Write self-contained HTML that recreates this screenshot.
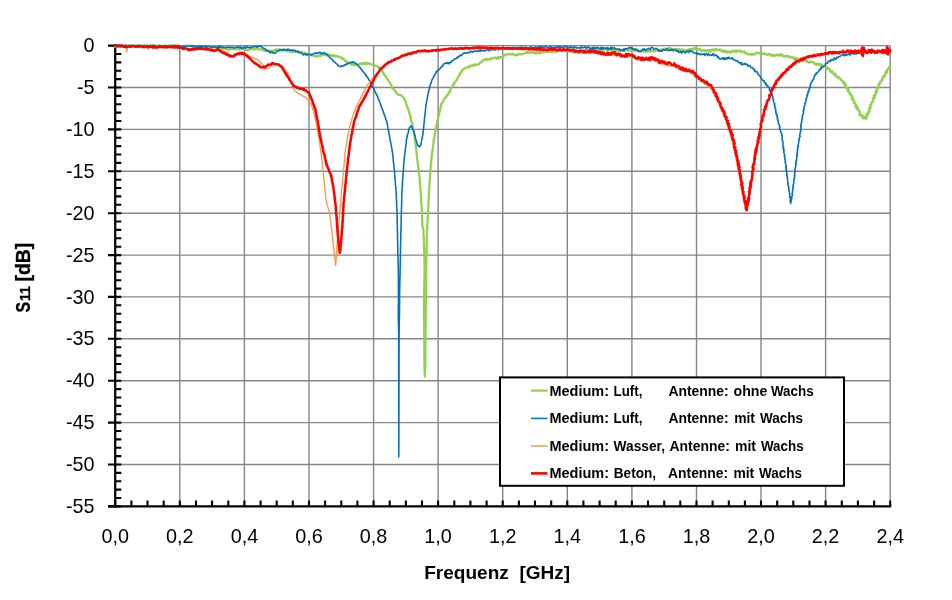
<!DOCTYPE html>
<html lang="de"><head><meta charset="utf-8"><title>S11 Diagramm</title>
<style>html,body{margin:0;padding:0;background:#fff}body{width:952px;height:600px;overflow:hidden}</style></head>
<body>
<svg width="952" height="600" viewBox="0 0 952 600" style="display:block">
<rect x="0" y="0" width="952" height="600" fill="#ffffff"/>
<path d="M179.8 45.6 V506.4 M244.4 45.6 V506.4 M309.0 45.6 V506.4 M373.6 45.6 V506.4 M438.1 45.6 V506.4 M502.7 45.6 V506.4 M567.3 45.6 V506.4 M631.9 45.6 V506.4 M696.5 45.6 V506.4 M761.0 45.6 V506.4 M825.6 45.6 V506.4 M890.2 45.6 V506.4 M115.2 45.6 H890.2 M115.2 87.5 H890.2 M115.2 129.4 H890.2 M115.2 171.3 H890.2 M115.2 213.2 H890.2 M115.2 255.1 H890.2 M115.2 296.9 H890.2 M115.2 338.8 H890.2 M115.2 380.7 H890.2 M115.2 422.6 H890.2 M115.2 464.5 H890.2" stroke="#868686" stroke-width="1.4" fill="none"/>
<path d="M108.0 45.6 H121.3 M115.2 54.0 H121.3 M115.2 62.4 H121.3 M115.2 70.7 H121.3 M115.2 79.1 H121.3 M108.0 87.5 H121.3 M115.2 95.9 H121.3 M115.2 104.2 H121.3 M115.2 112.6 H121.3 M115.2 121.0 H121.3 M108.0 129.4 H121.3 M115.2 137.8 H121.3 M115.2 146.1 H121.3 M115.2 154.5 H121.3 M115.2 162.9 H121.3 M108.0 171.3 H121.3 M115.2 179.7 H121.3 M115.2 188.0 H121.3 M115.2 196.4 H121.3 M115.2 204.8 H121.3 M108.0 213.2 H121.3 M115.2 221.5 H121.3 M115.2 229.9 H121.3 M115.2 238.3 H121.3 M115.2 246.7 H121.3 M108.0 255.1 H121.3 M115.2 263.4 H121.3 M115.2 271.8 H121.3 M115.2 280.2 H121.3 M115.2 288.6 H121.3 M108.0 296.9 H121.3 M115.2 305.3 H121.3 M115.2 313.7 H121.3 M115.2 322.1 H121.3 M115.2 330.5 H121.3 M108.0 338.8 H121.3 M115.2 347.2 H121.3 M115.2 355.6 H121.3 M115.2 364.0 H121.3 M115.2 372.3 H121.3 M108.0 380.7 H121.3 M115.2 389.1 H121.3 M115.2 397.5 H121.3 M115.2 405.9 H121.3 M115.2 414.2 H121.3 M108.0 422.6 H121.3 M115.2 431.0 H121.3 M115.2 439.4 H121.3 M115.2 447.8 H121.3 M115.2 456.1 H121.3 M108.0 464.5 H121.3 M115.2 472.9 H121.3 M115.2 481.3 H121.3 M115.2 489.6 H121.3 M115.2 498.0 H121.3 M108.0 506.4 H121.3 M115.2 506.4 V500.6 M131.4 506.4 V500.6 M147.5 506.4 V500.6 M163.7 506.4 V500.6 M179.8 506.4 V500.6 M196.0 506.4 V500.6 M212.1 506.4 V500.6 M228.3 506.4 V500.6 M244.4 506.4 V500.6 M260.6 506.4 V500.6 M276.7 506.4 V500.6 M292.8 506.4 V500.6 M309.0 506.4 V500.6 M325.1 506.4 V500.6 M341.3 506.4 V500.6 M357.4 506.4 V500.6 M373.6 506.4 V500.6 M389.7 506.4 V500.6 M405.9 506.4 V500.6 M422.0 506.4 V500.6 M438.1 506.4 V500.6 M454.3 506.4 V500.6 M470.4 506.4 V500.6 M486.6 506.4 V500.6 M502.7 506.4 V500.6 M518.9 506.4 V500.6 M535.0 506.4 V500.6 M551.2 506.4 V500.6 M567.3 506.4 V500.6 M583.4 506.4 V500.6 M599.6 506.4 V500.6 M615.7 506.4 V500.6 M631.9 506.4 V500.6 M648.0 506.4 V500.6 M664.2 506.4 V500.6 M680.3 506.4 V500.6 M696.5 506.4 V500.6 M712.6 506.4 V500.6 M728.8 506.4 V500.6 M744.9 506.4 V500.6 M761.0 506.4 V500.6 M777.2 506.4 V500.6 M793.3 506.4 V500.6 M809.5 506.4 V500.6 M825.6 506.4 V500.6 M841.8 506.4 V500.6 M857.9 506.4 V500.6 M874.1 506.4 V500.6 M890.2 506.4 V500.6" stroke="#000" stroke-width="2.1" fill="none"/>
<path d="M115.2 44.6 V507.4 M108.0 506.4 H891.2" stroke="#000" stroke-width="2.2" fill="none"/>
<g fill="none" stroke-linejoin="round" stroke-linecap="round">
<path d="M115.3 46.9 L115.8 46.6 L116.7 46.9 L117.2 46.0 L118.0 46.2 L118.7 46.0 L119.4 45.5 L120.1 46.2 L120.8 45.5 L121.5 46.1 L122.2 45.5 L123.0 45.5 L123.7 46.0 L124.4 46.6 L125.1 45.5 L125.8 45.7 L126.5 46.3 L127.2 46.7 L127.9 46.2 L128.6 45.9 L129.4 46.8 L130.1 45.4 L130.8 46.6 L131.5 45.7 L132.2 45.5 L132.9 45.4 L133.6 45.7 L134.3 46.4 L135.0 45.5 L135.7 46.1 L136.5 46.2 L137.2 45.7 L137.9 46.0 L138.6 45.3 L139.3 45.3 L140.0 45.5 L140.7 46.2 L141.4 45.8 L142.1 45.6 L142.9 46.0 L143.6 45.8 L144.3 45.6 L145.0 46.4 L145.7 46.2 L146.4 45.5 L147.1 46.0 L147.9 46.0 L148.6 46.5 L149.3 46.3 L150.0 45.6 L150.7 46.7 L151.4 45.4 L152.1 45.8 L152.9 46.3 L153.6 45.4 L154.3 45.9 L155.0 45.3 L155.7 46.2 L156.4 46.4 L157.1 46.1 L157.9 46.5 L158.6 45.7 L159.3 46.3 L160.0 46.1 L160.7 46.1 L161.4 45.9 L162.1 46.5 L162.9 46.6 L163.6 45.9 L164.3 46.2 L165.0 45.3 L165.7 46.3 L166.4 46.2 L167.1 46.7 L167.9 46.5 L168.6 45.7 L169.3 45.8 L170.0 46.3 L170.7 45.3 L171.4 46.0 L172.1 45.5 L172.8 45.5 L173.5 45.4 L174.2 46.4 L174.9 45.5 L175.6 45.7 L176.3 45.9 L177.0 46.6 L177.7 45.4 L178.4 46.0 L179.1 46.1 L179.8 46.6 L180.5 46.6 L181.2 46.6 L181.9 45.8 L182.6 46.0 L183.3 45.9 L184.0 46.7 L184.7 46.8 L185.4 45.6 L186.1 45.6 L186.8 45.7 L187.5 45.7 L188.2 46.1 L188.9 46.3 L189.6 45.8 L190.3 45.4 L191.0 46.0 L191.7 46.0 L192.4 46.3 L193.1 46.9 L193.8 46.5 L194.5 46.2 L195.2 46.4 L195.9 46.5 L196.6 45.6 L197.3 46.9 L198.0 46.8 L198.7 46.9 L199.4 46.9 L200.1 46.3 L200.8 46.4 L201.6 46.0 L202.2 46.8 L203.0 46.0 L203.7 46.0 L204.4 46.3 L205.1 46.3 L205.8 46.5 L206.5 46.2 L207.2 46.1 L207.9 46.4 L208.6 46.4 L209.3 46.8 L210.0 46.3 L210.7 47.6 L211.5 47.3 L212.3 46.7 L213.0 46.9 L213.7 47.1 L214.5 47.2 L215.2 46.9 L215.9 47.9 L216.6 48.2 L217.4 47.5 L218.2 47.6 L219.0 47.1 L219.7 47.2 L220.4 47.6 L221.2 47.7 L221.7 48.5 L222.6 47.9 L223.3 47.9 L223.8 49.2 L224.6 48.8 L225.4 48.5 L226.0 49.2 L226.8 48.6 L227.4 49.3 L228.2 49.9 L229.0 49.7 L229.7 49.4 L230.4 48.7 L231.1 48.8 L231.9 48.5 L232.7 49.3 L233.4 48.9 L234.1 49.2 L234.8 48.5 L235.6 48.3 L236.3 49.2 L237.0 49.5 L237.7 49.3 L238.4 49.3 L239.1 49.4 L239.8 49.3 L240.5 48.7 L241.2 49.1 L241.9 48.9 L242.6 48.5 L243.3 48.6 L244.0 49.0 L244.7 49.0 L245.4 49.7 L246.1 50.1 L246.8 49.4 L247.5 50.2 L248.2 50.3 L249.0 50.2 L249.6 49.3 L250.3 49.0 L251.1 49.0 L251.8 48.9 L252.5 48.8 L253.3 49.3 L254.0 49.6 L254.7 49.5 L255.4 48.9 L256.2 49.1 L256.9 49.2 L257.5 48.2 L258.3 48.9 L258.9 49.4 L259.6 49.4 L260.3 49.5 L261.0 49.4 L261.8 49.2 L262.3 50.1 L263.1 49.7 L263.7 50.4 L264.3 50.8 L265.1 50.3 L265.8 50.5 L266.4 51.3 L267.2 51.1 L268.0 50.5 L268.8 50.5 L269.5 50.6 L270.1 51.7 L270.9 51.7 L271.5 50.7 L272.4 51.3 L273.2 51.3 L273.8 50.7 L274.4 50.2 L275.1 50.2 L275.7 49.5 L276.3 49.2 L277.3 50.2 L277.9 49.9 L278.6 49.7 L279.3 50.3 L280.0 49.7 L280.7 50.3 L281.4 50.3 L282.1 49.5 L282.8 49.6 L283.5 49.7 L284.3 49.8 L284.9 50.4 L285.7 50.1 L286.3 50.4 L287.1 50.2 L287.6 51.3 L288.4 50.7 L289.1 51.0 L289.8 51.3 L290.5 51.8 L291.4 51.3 L292.1 52.0 L292.9 51.5 L293.7 51.7 L294.5 51.7 L295.4 51.1 L296.1 51.8 L296.8 51.5 L297.6 51.3 L298.2 52.4 L299.1 51.6 L299.8 52.1 L300.5 52.5 L301.2 52.3 L302.0 52.1 L302.7 52.5 L303.3 52.8 L303.9 53.3 L304.8 52.7 L305.3 53.5 L306.1 53.3 L306.8 53.6 L307.3 54.4 L308.0 54.3 L308.7 54.6 L309.3 55.0 L309.9 55.3 L310.8 54.9 L311.4 55.3 L312.1 55.4 L312.8 55.5 L313.4 55.9 L314.2 55.8 L314.8 56.1 L315.5 56.2 L316.3 56.7 L316.9 56.2 L317.7 56.3 L318.4 56.3 L318.9 55.3 L319.7 55.6 L320.5 56.0 L321.2 55.7 L321.7 54.7 L322.4 54.5 L323.2 54.8 L323.9 54.2 L324.7 54.5 L325.4 54.3 L326.1 55.1 L326.9 55.3 L327.6 55.5 L328.4 54.5 L329.1 55.3 L329.8 55.3 L330.7 54.6 L331.3 55.7 L332.0 56.0 L332.9 55.1 L333.5 56.2 L334.3 55.6 L335.1 55.8 L335.7 56.6 L336.5 56.5 L337.4 55.8 L338.1 56.5 L338.8 56.9 L339.6 57.0 L340.4 57.2 L341.0 57.7 L341.6 58.4 L342.6 58.1 L342.9 59.0 L343.5 59.3 L344.3 59.4 L344.7 60.1 L345.1 60.8 L345.7 61.1 L346.5 61.2 L346.6 62.3 L347.2 62.6 L347.9 63.2 L349.0 62.7 L349.7 63.2 L350.5 63.4 L350.8 64.5 L351.8 64.3 L352.5 64.4 L353.1 64.7 L353.9 65.4 L354.6 65.2 L355.3 64.4 L356.0 64.2 L356.8 65.2 L357.5 64.7 L358.3 64.7 L358.9 63.8 L359.6 63.6 L360.5 64.2 L361.2 63.7 L361.9 63.1 L362.8 64.1 L363.5 63.5 L364.2 63.6 L364.9 62.7 L365.6 63.8 L366.4 62.7 L367.0 63.9 L367.8 63.3 L368.5 63.2 L369.2 63.6 L369.7 64.2 L370.8 63.9 L371.5 64.1 L372.1 64.8 L373.0 64.8 L373.7 65.0 L374.4 65.3 L375.2 65.4 L375.8 65.9 L376.5 66.2 L377.2 66.5 L377.8 67.2 L378.7 66.9 L379.3 67.4 L379.9 67.9 L380.2 68.5 L380.9 69.0 L381.1 69.7 L381.7 70.1 L381.7 71.0 L382.2 71.6 L382.8 72.0 L383.1 72.7 L383.2 73.5 L384.2 73.7 L384.1 74.6 L384.8 75.0 L385.2 75.7 L385.4 76.4 L386.1 76.8 L386.4 77.4 L386.7 78.1 L387.0 78.8 L387.8 79.1 L387.8 79.9 L388.3 80.5 L388.6 81.1 L389.1 81.6 L389.5 82.2 L390.0 82.7 L390.3 83.4 L390.7 84.0 L390.6 84.8 L391.2 85.3 L391.6 85.8 L392.0 86.4 L391.9 87.3 L392.2 87.9 L392.7 88.5 L393.4 88.8 L393.9 89.3 L394.3 89.9 L394.6 90.5 L395.3 90.9 L395.6 91.6 L396.1 92.0 L396.2 92.9 L396.6 93.5 L397.3 93.8 L397.9 94.1 L398.3 95.1 L399.3 94.7 L400.0 95.1 L400.9 95.0 L401.5 95.8 L402.2 96.2 L402.9 96.5 L403.4 97.1 L403.5 97.8 L404.1 98.3 L404.2 99.0 L404.6 99.6 L404.8 100.3 L405.3 100.8 L405.6 101.5 L405.7 102.2 L406.0 102.8 L406.2 103.5 L406.4 104.2 L406.5 104.9 L406.8 105.5 L407.0 106.2 L407.1 106.9 L407.6 107.5 L407.9 108.2 L407.8 109.0 L408.4 109.5 L408.4 110.3 L408.6 110.9 L409.1 111.5 L409.0 112.3 L409.2 113.0 L409.5 113.6 L409.7 114.3 L409.8 115.1 L410.3 115.7 L410.3 116.5 L410.5 117.2 L410.5 118.0 L410.7 118.7 L410.9 119.4 L411.2 120.1 L411.2 120.9 L411.5 121.6 L411.7 122.3 L412.0 122.9 L412.3 123.7 L412.4 124.4 L412.4 125.1 L412.7 125.8 L412.5 126.6 L412.8 127.3 L412.9 128.1 L413.1 128.8 L413.2 129.5 L413.4 130.2 L413.7 130.9 L413.6 131.7 L413.7 132.4 L414.0 133.1 L414.1 133.9 L414.2 134.6 L414.6 135.3 L414.4 136.0 L414.7 136.8 L414.8 137.5 L414.8 138.2 L414.8 139.0 L415.0 139.7 L414.9 140.4 L415.0 141.2 L415.2 141.9 L415.3 142.6 L415.4 143.4 L415.4 144.1 L415.5 144.8 L415.6 145.6 L415.7 146.3 L416.0 147.0 L416.0 147.8 L416.1 148.5 L416.0 149.2 L416.2 149.9 L416.2 150.6 L416.5 151.3 L416.6 152.0 L416.6 152.8 L416.5 153.5 L416.6 154.2 L416.7 154.9 L416.9 155.6 L416.9 156.3 L417.0 157.0 L417.1 157.7 L417.3 158.4 L417.1 159.2 L417.4 159.9 L417.3 160.6 L417.4 161.3 L417.8 162.0 L417.7 162.7 L417.7 163.4 L417.7 164.1 L418.0 164.8 L418.1 165.5 L418.2 166.2 L418.1 167.0 L418.4 167.6 L418.4 168.4 L418.6 169.0 L418.6 169.8 L418.5 170.5 L418.9 171.2 L418.7 171.9 L418.9 172.6 L418.9 173.3 L419.1 174.0 L419.3 174.7 L419.2 175.4 L419.4 176.1 L419.6 176.8 L419.6 177.5 L419.5 178.2 L419.6 178.9 L419.7 179.6 L419.8 180.3 L419.8 181.0 L419.9 181.7 L419.8 182.4 L420.1 183.1 L419.9 183.8 L420.0 184.5 L420.2 185.2 L420.0 185.9 L420.2 186.6 L420.2 187.3 L420.4 188.0 L420.4 188.7 L420.5 189.4 L420.4 190.1 L420.6 190.8 L420.7 191.5 L420.7 192.2 L420.8 192.9 L420.9 193.6 L420.9 194.3 L420.8 195.0 L421.0 195.7 L420.8 196.4 L421.1 197.1 L421.1 197.8 L421.1 198.5 L421.2 199.2 L421.2 199.9 L421.1 200.6 L421.1 201.3 L421.2 202.0 L421.3 202.7 L421.3 203.4 L421.3 204.1 L421.4 204.8 L421.4 205.5 L421.7 206.2 L421.5 206.9 L421.6 207.6 L421.6 208.3 L421.7 209.0 L421.8 209.7 L421.9 210.4 L421.7 211.2 L421.9 211.9 L421.9 212.6 L421.9 213.4 L422.0 214.1 L421.9 214.8 L421.9 215.6 L422.1 216.3 L422.0 217.0 L422.1 217.7 L422.1 218.5 L422.2 219.2 L422.3 219.9 L422.3 220.6 L422.3 221.4 L422.2 222.1 L422.3 222.8 L422.4 223.5 L422.3 224.3 L422.2 225.0 L422.5 225.8 L422.8 226.5 L422.9 227.2 L423.0 228.0 L423.1 228.8 L423.3 229.5 L423.4 230.3 L423.5 231.0 L423.5 231.8 L423.4 232.5 L423.5 233.2 L423.6 233.9 L423.6 234.6 L423.6 235.4 L423.7 236.1 L423.7 236.8 L423.8 237.5 L423.8 238.2 L423.7 238.9 L423.9 239.6 L423.8 240.3 L423.8 241.1 L423.8 241.8 L424.0 242.5 L424.0 243.2 L424.0 243.9 L424.0 244.6 L424.0 245.3 L423.9 246.0 L424.0 246.8 L424.0 247.5 L424.2 248.2 L424.3 248.9 L424.1 249.6 L424.1 250.3 L424.2 251.0 L424.2 251.7 L424.4 252.4 L424.3 253.2 L424.2 253.9 L424.3 254.6 L424.3 255.3 L424.3 256.0 L424.5 256.7 L424.5 257.5 L424.5 258.2 L424.4 258.9 L424.4 259.6 L424.4 260.4 L424.4 261.1 L424.5 261.8 L424.4 262.5 L424.5 263.3 L424.5 264.0 L424.6 264.7 L424.5 265.4 L424.6 266.2 L424.5 266.9 L424.5 267.6 L424.6 268.3 L424.7 269.1 L424.6 269.8 L424.6 270.5 L424.5 271.2 L424.7 271.9 L424.7 272.6 L424.5 273.3 L424.5 274.0 L424.5 274.7 L424.6 275.4 L424.5 276.1 L424.6 276.8 L424.5 277.5 L424.5 278.2 L424.3 278.9 L424.4 279.6 L424.3 280.3 L424.4 281.0 L424.4 281.7 L424.4 282.4 L424.2 283.1 L424.3 283.8 L424.4 284.5 L424.4 285.3 L424.3 286.0 L424.2 286.7 L424.3 287.4 L424.3 288.1 L424.2 288.8 L424.1 289.5 L424.3 290.2 L424.3 290.9 L424.2 291.6 L424.2 292.3 L424.1 293.0 L424.2 293.7 L424.0 294.4 L424.0 295.1 L424.1 295.8 L424.1 296.5 L424.0 297.2 L424.1 297.9 L424.0 298.6 L424.1 299.3 L424.1 300.0 L423.9 300.7 L424.0 301.4 L423.9 302.1 L424.0 302.9 L424.1 303.6 L424.1 304.3 L424.0 305.0 L424.0 305.7 L423.9 306.4 L424.1 307.1 L424.1 307.9 L424.1 308.6 L423.9 309.3 L424.1 310.0 L424.1 310.7 L424.1 311.4 L424.1 312.1 L424.0 312.9 L424.0 313.6 L424.0 314.3 L424.0 315.0 L424.0 315.7 L424.1 316.4 L424.2 317.1 L424.0 317.9 L424.0 318.6 L424.2 319.3 L424.1 320.0 L424.1 320.7 L424.1 321.4 L424.2 322.1 L424.2 322.8 L424.2 323.5 L424.2 324.2 L424.2 324.9 L424.0 325.6 L424.2 326.4 L424.1 327.1 L424.2 327.8 L424.2 328.5 L424.1 329.2 L424.1 329.9 L424.2 330.6 L424.3 331.3 L424.2 332.0 L424.2 332.7 L424.1 333.4 L424.3 334.1 L424.2 334.8 L424.1 335.5 L424.3 336.2 L424.3 336.9 L424.2 337.6 L424.2 338.3 L424.4 339.1 L424.4 339.8 L424.4 340.5 L424.2 341.2 L424.3 341.9 L424.2 342.6 L424.2 343.3 L424.3 344.0 L424.3 344.7 L424.2 345.4 L424.3 346.1 L424.4 346.8 L424.3 347.5 L424.4 348.2 L424.4 348.9 L424.4 349.6 L424.3 350.3 L424.3 351.1 L424.3 351.8 L424.3 352.5 L424.5 353.2 L424.4 353.9 L424.4 354.6 L424.3 355.3 L424.3 356.0 L424.4 356.7 L424.5 357.4 L424.4 358.1 L424.4 358.8 L424.3 359.5 L424.5 360.2 L424.4 360.9 L424.4 361.6 L424.4 362.3 L424.4 363.0 L424.4 363.8 L424.5 364.5 L424.5 365.2 L424.5 365.9 L424.4 366.6 L424.6 367.3 L424.6 368.0 L424.4 368.7 L424.6 369.4 L424.7 370.2 L424.7 370.9 L424.6 371.7 L424.7 372.4 L424.6 373.2 L424.6 374.0 L424.7 374.7 L424.9 375.5 L425.0 376.2 L425.1 376.6 L424.9 376.3 L425.0 375.5 L425.0 374.8 L424.9 374.1 L425.0 373.4 L425.1 372.6 L425.1 371.9 L425.2 371.2 L425.2 370.5 L425.2 369.7 L425.1 369.0 L425.3 368.3 L425.2 367.6 L425.2 366.9 L425.2 366.2 L425.3 365.5 L425.2 364.8 L425.2 364.1 L425.2 363.4 L425.2 362.7 L425.4 362.0 L425.3 361.3 L425.2 360.6 L425.3 359.9 L425.4 359.2 L425.3 358.5 L425.3 357.8 L425.4 357.1 L425.4 356.4 L425.4 355.7 L425.3 355.0 L425.3 354.3 L425.4 353.6 L425.4 352.9 L425.5 352.2 L425.3 351.5 L425.3 350.8 L425.3 350.1 L425.3 349.4 L425.5 348.7 L425.4 348.0 L425.5 347.3 L425.4 346.6 L425.5 345.9 L425.4 345.2 L425.4 344.5 L425.5 343.8 L425.6 343.1 L425.4 342.4 L425.5 341.7 L425.5 341.0 L425.4 340.3 L425.5 339.6 L425.4 338.9 L425.5 338.2 L425.5 337.5 L425.5 336.8 L425.6 336.1 L425.5 335.4 L425.4 334.7 L425.5 334.0 L425.6 333.3 L425.5 332.6 L425.5 331.9 L425.5 331.2 L425.7 330.5 L425.6 329.8 L425.5 329.1 L425.5 328.4 L425.6 327.7 L425.6 327.0 L425.7 326.3 L425.6 325.6 L425.6 324.9 L425.7 324.2 L425.6 323.5 L425.6 322.8 L425.6 322.1 L425.8 321.4 L425.7 320.7 L425.7 320.0 L425.7 319.3 L425.7 318.6 L425.8 317.9 L425.8 317.1 L425.7 316.4 L425.7 315.7 L425.8 315.0 L425.7 314.3 L425.7 313.6 L425.9 312.9 L425.8 312.1 L425.9 311.4 L425.8 310.7 L425.9 310.0 L425.8 309.3 L425.7 308.6 L425.7 307.9 L425.8 307.1 L425.9 306.4 L425.9 305.7 L425.8 305.0 L425.9 304.3 L425.8 303.6 L425.9 302.9 L425.8 302.1 L425.8 301.4 L425.9 300.7 L426.0 300.0 L425.8 299.3 L425.9 298.6 L426.0 297.9 L426.0 297.2 L425.9 296.5 L425.9 295.8 L426.0 295.1 L426.0 294.4 L425.9 293.7 L425.9 293.0 L426.0 292.3 L425.9 291.6 L426.0 290.9 L426.0 290.2 L426.0 289.5 L425.9 288.8 L426.0 288.1 L425.9 287.4 L426.0 286.7 L426.1 286.0 L426.1 285.3 L425.9 284.5 L426.0 283.8 L426.0 283.1 L426.0 282.4 L426.0 281.7 L425.9 281.0 L426.0 280.3 L426.1 279.6 L426.1 278.9 L426.0 278.2 L426.1 277.5 L426.1 276.8 L426.0 276.1 L426.1 275.4 L426.0 274.7 L426.1 274.0 L426.1 273.3 L426.1 272.6 L426.0 271.9 L426.1 271.2 L426.1 270.5 L426.1 269.8 L426.2 269.1 L426.1 268.3 L426.2 267.6 L426.1 266.9 L426.2 266.2 L426.2 265.4 L426.2 264.7 L426.3 264.0 L426.4 263.3 L426.3 262.5 L426.3 261.8 L426.3 261.1 L426.3 260.4 L426.3 259.6 L426.4 258.9 L426.3 258.2 L426.4 257.5 L426.5 256.7 L426.4 256.0 L426.5 255.3 L426.4 254.6 L426.6 253.9 L426.6 253.2 L426.6 252.5 L426.5 251.7 L426.6 251.0 L426.6 250.3 L426.7 249.6 L426.5 248.9 L426.7 248.2 L426.7 247.5 L426.7 246.8 L426.7 246.0 L426.6 245.3 L426.8 244.6 L426.7 243.9 L426.8 243.2 L426.8 242.5 L426.7 241.8 L426.8 241.1 L426.9 240.3 L426.7 239.6 L426.7 238.9 L426.8 238.2 L426.7 237.5 L426.9 236.8 L426.8 236.1 L426.9 235.4 L426.8 234.6 L426.9 233.9 L427.0 233.2 L426.8 232.5 L426.8 231.8 L427.0 231.0 L427.0 230.3 L426.9 229.5 L427.0 228.8 L427.1 228.0 L427.4 227.3 L427.3 226.5 L427.5 225.8 L427.3 225.0 L427.5 224.3 L427.4 223.6 L427.5 222.8 L427.6 222.1 L427.5 221.4 L427.7 220.7 L427.7 220.0 L427.7 219.3 L427.8 218.5 L427.6 217.8 L427.9 217.1 L427.9 216.4 L427.8 215.7 L428.0 215.0 L427.9 214.2 L428.1 213.5 L428.0 212.8 L428.0 212.1 L428.1 211.4 L428.1 210.6 L428.1 209.9 L428.2 209.2 L428.1 208.5 L428.3 207.8 L428.2 207.1 L428.4 206.3 L428.5 205.6 L428.4 204.9 L428.5 204.2 L428.4 203.5 L428.4 202.7 L428.4 202.0 L428.5 201.3 L428.6 200.6 L428.6 199.9 L428.7 199.2 L428.8 198.5 L428.7 197.7 L428.7 197.0 L428.9 196.3 L428.7 195.6 L428.8 194.8 L428.9 194.1 L428.9 193.4 L429.0 192.7 L429.0 192.0 L429.1 191.3 L429.2 190.6 L429.1 189.8 L429.3 189.1 L429.3 188.4 L429.2 187.7 L429.5 187.0 L429.3 186.2 L429.3 185.5 L429.4 184.8 L429.5 184.1 L429.6 183.4 L429.7 182.7 L429.6 181.9 L429.6 181.2 L429.6 180.5 L429.8 179.8 L429.8 179.1 L429.8 178.4 L430.0 177.7 L430.0 177.0 L430.2 176.3 L430.2 175.6 L430.1 174.8 L430.3 174.2 L430.1 173.4 L430.3 172.7 L430.3 172.0 L430.3 171.3 L430.3 170.6 L430.6 169.9 L430.4 169.2 L430.6 168.5 L430.8 167.8 L430.6 167.1 L430.7 166.4 L430.9 165.7 L430.9 165.0 L431.0 164.3 L431.1 163.6 L431.0 162.8 L431.1 162.1 L431.1 161.4 L431.1 160.7 L431.4 160.0 L431.4 159.3 L431.5 158.6 L431.3 157.9 L431.7 157.2 L431.8 156.5 L431.8 155.8 L431.9 155.1 L431.9 154.4 L431.9 153.7 L432.0 153.0 L432.1 152.3 L432.2 151.6 L432.4 150.9 L432.6 150.2 L432.7 149.5 L432.8 148.8 L432.8 148.1 L432.8 147.4 L433.0 146.7 L433.0 146.0 L433.2 145.3 L433.2 144.6 L433.2 143.9 L433.5 143.2 L433.7 142.5 L433.5 141.8 L433.9 141.1 L433.6 140.4 L433.8 139.7 L433.9 138.9 L434.2 138.3 L434.4 137.6 L434.5 136.9 L434.4 136.1 L434.7 135.4 L434.6 134.7 L434.7 134.0 L435.1 133.3 L435.1 132.6 L435.2 131.9 L435.3 131.3 L435.6 130.6 L435.5 129.9 L435.8 129.2 L435.8 128.5 L436.0 127.8 L436.0 127.1 L436.3 126.4 L436.4 125.7 L436.4 124.9 L436.6 124.2 L436.9 123.5 L436.9 122.7 L437.4 122.1 L437.3 121.3 L437.4 120.6 L437.6 119.8 L438.2 119.2 L438.1 118.4 L438.2 117.7 L438.3 117.0 L438.4 116.3 L438.9 115.6 L439.0 114.9 L439.2 114.2 L439.3 113.6 L439.2 112.8 L439.6 112.1 L439.6 111.4 L440.0 110.8 L440.1 110.1 L440.3 109.4 L440.1 108.6 L440.6 108.0 L440.7 107.3 L440.9 106.6 L440.7 105.9 L440.8 105.1 L441.1 104.4 L441.4 103.6 L442.3 103.2 L442.6 102.4 L442.9 101.7 L443.3 101.0 L443.6 100.3 L443.8 99.5 L444.2 98.9 L444.6 98.3 L445.5 98.1 L445.6 97.2 L446.2 96.7 L446.7 96.2 L446.9 95.4 L447.5 95.0 L447.9 94.4 L448.5 93.9 L448.6 93.1 L448.9 92.5 L449.6 92.0 L449.6 91.2 L450.2 90.7 L450.4 90.0 L450.3 89.1 L450.9 88.6 L451.2 88.0 L451.7 87.4 L451.8 86.6 L452.5 86.2 L452.8 85.6 L453.0 84.8 L453.8 84.6 L453.7 83.6 L454.6 83.4 L454.6 82.5 L454.9 81.8 L455.5 81.3 L456.3 81.0 L456.7 80.4 L456.5 79.5 L457.1 79.0 L457.5 78.4 L458.0 77.8 L458.0 77.0 L458.5 76.5 L458.8 75.8 L459.5 75.3 L459.4 74.5 L460.2 74.1 L460.2 73.2 L460.5 72.6 L461.3 72.2 L461.6 71.5 L461.7 70.8 L462.5 70.4 L462.6 69.6 L463.5 69.3 L463.8 68.8 L464.5 68.7 L465.2 68.3 L465.8 67.7 L466.5 67.5 L467.2 67.3 L468.2 67.6 L468.5 66.4 L469.6 67.1 L469.9 65.8 L470.7 65.7 L471.5 65.5 L472.5 65.9 L473.1 65.2 L473.8 64.7 L474.6 65.4 L475.2 64.3 L475.9 64.5 L476.7 64.5 L477.4 64.7 L478.1 64.6 L478.9 64.3 L479.3 63.5 L479.8 62.9 L480.3 62.3 L481.3 62.3 L481.7 61.7 L482.4 61.2 L482.5 60.3 L483.3 60.0 L484.0 59.8 L484.6 59.6 L485.3 58.8 L486.0 59.4 L486.8 60.2 L487.5 59.0 L488.2 59.0 L488.9 59.2 L489.7 59.6 L490.5 59.6 L490.9 58.5 L491.6 58.3 L492.4 58.2 L493.1 58.1 L493.9 58.2 L494.6 57.6 L495.3 57.8 L496.0 57.5 L496.9 58.8 L497.6 58.3 L498.2 57.2 L499.2 58.5 L499.5 57.0 L500.4 57.0 L501.4 57.4 L502.0 56.9 L502.7 56.5 L503.3 55.8 L503.9 55.2 L504.8 55.6 L505.3 54.6 L506.1 54.5 L506.9 54.5 L507.4 53.8 L508.3 54.1 L509.1 54.5 L509.8 54.4 L510.6 54.2 L511.3 54.5 L512.1 54.3 L512.9 53.8 L513.5 54.7 L514.3 54.5 L515.0 55.1 L515.8 55.5 L516.5 54.5 L517.3 54.6 L518.1 54.8 L518.8 54.1 L519.4 53.6 L520.3 54.3 L521.1 54.4 L521.8 54.1 L522.6 53.8 L523.3 53.9 L524.0 53.5 L524.8 53.3 L525.5 52.9 L526.2 52.5 L527.0 52.9 L527.6 51.9 L528.4 52.3 L529.2 52.8 L529.9 52.7 L530.6 52.6 L531.3 52.0 L532.0 52.3 L532.7 52.4 L533.4 52.8 L534.1 52.4 L534.8 53.0 L535.5 53.5 L536.2 52.1 L536.9 53.0 L537.6 53.3 L538.3 52.5 L539.1 52.6 L540.0 53.3 L540.5 51.6 L541.4 52.3 L542.0 51.5 L543.0 52.5 L543.8 52.7 L544.4 51.8 L545.1 51.0 L545.9 51.8 L546.6 51.6 L547.4 51.9 L548.1 51.4 L548.9 51.6 L549.7 51.9 L550.4 51.2 L551.1 50.9 L551.8 52.0 L552.6 50.6 L553.3 51.6 L554.1 51.0 L554.8 51.8 L555.6 50.6 L556.3 52.3 L557.1 51.1 L557.8 50.5 L558.5 50.9 L559.3 51.0 L559.9 50.2 L560.8 50.9 L561.5 50.8 L562.3 51.2 L563.0 50.5 L563.7 50.3 L564.4 50.1 L565.3 51.0 L566.1 51.2 L566.8 50.4 L567.5 49.7 L568.3 50.7 L569.0 49.9 L569.7 49.4 L570.5 49.2 L571.3 50.4 L572.0 50.5 L572.7 50.2 L573.5 50.0 L574.2 50.3 L575.0 49.7 L575.5 51.2 L576.4 50.1 L577.1 50.7 L577.8 51.2 L578.5 51.2 L579.3 50.7 L580.0 50.4 L580.7 50.9 L581.4 50.0 L582.1 51.3 L582.8 50.3 L583.5 51.3 L584.2 50.1 L584.9 50.3 L585.6 50.0 L586.3 50.3 L587.0 49.7 L587.6 49.3 L588.4 50.8 L589.1 49.8 L589.8 49.7 L590.5 49.8 L591.2 50.1 L591.9 49.9 L592.6 50.3 L593.3 50.3 L594.0 49.7 L594.8 50.8 L595.4 50.6 L596.0 48.9 L596.8 50.5 L597.5 50.7 L598.2 50.4 L598.9 49.0 L599.6 50.5 L600.3 50.0 L601.0 48.7 L601.7 48.7 L602.4 50.7 L603.1 50.0 L603.8 49.1 L604.5 48.8 L605.2 48.9 L605.9 49.1 L606.6 50.2 L607.3 49.3 L608.0 48.8 L608.7 50.5 L609.4 50.2 L610.1 48.8 L610.8 50.4 L611.5 49.8 L612.2 50.1 L612.9 49.9 L613.5 50.3 L614.2 50.2 L614.9 50.4 L615.8 49.3 L616.4 50.4 L617.1 50.2 L617.8 50.7 L618.6 50.2 L619.2 51.2 L620.0 50.7 L620.7 50.1 L621.4 49.9 L622.2 49.7 L623.0 50.4 L623.6 49.4 L624.5 50.2 L625.1 49.5 L625.9 50.1 L626.7 50.1 L627.4 50.1 L628.2 50.7 L628.8 48.9 L629.7 50.6 L630.4 49.7 L631.1 50.0 L631.8 50.3 L632.6 50.7 L633.4 49.8 L634.1 49.9 L634.8 51.1 L635.6 49.4 L636.3 50.6 L637.0 50.6 L637.9 49.5 L638.5 50.7 L639.2 50.9 L639.9 51.5 L640.7 50.3 L641.4 51.7 L642.2 50.8 L642.9 50.8 L643.6 51.7 L644.4 49.9 L645.0 51.4 L645.8 51.2 L646.5 50.7 L647.2 51.8 L648.0 50.8 L648.7 51.1 L649.4 51.3 L650.2 51.7 L650.8 50.5 L651.5 50.8 L652.2 50.7 L653.0 50.9 L653.8 51.3 L654.4 50.2 L655.2 51.2 L655.8 50.3 L656.6 50.4 L657.2 49.8 L658.0 50.2 L658.8 51.1 L659.5 50.4 L660.3 50.6 L661.0 49.6 L661.7 49.5 L662.5 49.3 L663.3 49.8 L664.0 49.9 L664.8 50.1 L665.3 48.5 L666.2 49.8 L667.0 50.0 L667.6 49.3 L668.2 48.2 L669.0 48.6 L669.7 47.9 L670.4 48.2 L671.3 49.6 L672.0 48.9 L672.7 48.9 L673.4 49.1 L674.1 49.3 L674.8 48.8 L675.5 48.9 L676.2 49.1 L676.9 49.4 L677.7 49.4 L678.4 49.7 L679.3 49.0 L679.8 50.0 L680.6 49.7 L681.2 50.4 L682.2 49.4 L682.9 49.7 L683.7 49.6 L684.2 51.2 L685.0 51.2 L685.6 50.6 L686.2 50.0 L687.1 50.7 L687.8 50.5 L688.4 49.9 L689.0 49.2 L689.7 49.2 L690.4 49.3 L691.1 49.0 L691.8 49.0 L692.6 49.3 L693.4 49.7 L693.8 48.0 L694.6 48.8 L695.1 47.7 L696.0 47.6 L696.5 49.1 L697.3 48.9 L697.8 49.7 L698.7 49.1 L699.6 48.6 L700.1 49.4 L700.7 50.0 L701.2 50.7 L701.8 51.0 L702.7 50.4 L703.5 50.5 L704.3 50.1 L704.7 51.2 L705.6 50.7 L706.1 50.7 L706.7 50.4 L707.4 50.2 L708.4 51.4 L708.9 50.2 L709.9 51.7 L710.4 49.9 L711.3 51.2 L711.8 49.7 L712.5 49.4 L713.5 50.6 L714.1 49.5 L715.0 50.3 L715.5 49.2 L716.2 48.8 L717.2 50.0 L717.8 49.8 L718.3 50.2 L719.0 50.2 L720.0 49.3 L720.4 50.4 L721.1 50.7 L721.9 50.5 L722.3 51.5 L723.3 50.5 L723.6 51.9 L724.4 51.7 L725.4 50.7 L726.1 50.9 L726.5 52.2 L727.1 52.6 L728.0 51.4 L728.6 51.8 L729.4 52.5 L729.9 51.4 L730.8 52.6 L731.5 51.8 L732.1 50.8 L732.8 51.3 L733.6 51.6 L734.3 51.3 L735.1 51.6 L735.6 50.5 L736.5 51.7 L737.1 50.7 L737.9 51.2 L738.6 51.1 L739.3 50.5 L740.0 50.4 L740.5 51.3 L741.1 51.8 L741.9 51.8 L742.7 51.7 L743.5 51.6 L744.3 51.5 L744.4 53.1 L745.3 53.0 L745.9 53.4 L746.8 52.9 L747.3 53.6 L747.8 54.5 L748.6 54.5 L749.4 54.4 L750.1 54.1 L750.8 54.2 L751.7 55.0 L752.2 53.9 L753.0 54.4 L753.7 54.1 L754.6 54.5 L755.2 54.2 L755.8 53.1 L756.4 52.5 L757.2 52.8 L758.0 53.0 L758.8 53.2 L759.6 53.5 L760.2 53.6 L761.1 52.1 L761.6 53.7 L762.3 53.8 L763.1 54.0 L763.9 53.6 L764.7 53.2 L765.3 54.4 L766.1 54.4 L766.8 54.3 L767.5 54.9 L768.5 54.1 L769.3 53.8 L769.9 54.8 L770.5 55.4 L771.5 54.5 L772.0 55.7 L772.7 56.2 L773.6 55.0 L774.4 55.7 L775.1 55.8 L775.8 55.3 L776.5 54.7 L777.3 54.7 L778.1 55.6 L778.9 55.6 L779.5 54.8 L780.3 53.9 L780.9 55.5 L781.6 55.6 L782.5 54.8 L783.1 55.6 L783.6 56.3 L784.3 56.5 L785.2 56.0 L785.9 56.1 L786.6 56.5 L787.4 55.9 L788.1 56.1 L788.8 56.2 L789.3 57.3 L790.2 56.9 L790.8 57.5 L791.5 57.4 L792.2 57.7 L793.1 57.3 L793.8 57.3 L794.1 59.2 L795.1 58.2 L795.9 57.9 L796.3 59.1 L797.0 59.6 L797.9 58.4 L798.6 59.4 L799.4 59.0 L800.1 59.4 L801.0 58.5 L801.7 58.6 L802.3 60.6 L803.1 60.5 L803.9 59.8 L804.5 60.2 L805.4 59.9 L805.7 61.1 L806.6 60.7 L807.0 61.9 L807.7 61.8 L808.4 62.2 L808.9 62.7 L810.1 61.7 L810.9 61.6 L811.5 62.0 L812.2 62.2 L813.0 62.2 L813.8 62.3 L814.3 63.5 L814.9 64.2 L815.8 63.6 L816.3 64.8 L817.1 64.9 L818.2 63.4 L818.7 64.6 L819.6 64.4 L820.5 64.1 L820.8 65.9 L821.9 64.7 L822.5 65.5 L823.2 65.8 L823.6 66.5 L824.4 66.4 L825.3 66.4 L825.8 66.9 L826.6 66.9 L826.3 68.5 L826.8 69.0 L828.3 68.3 L829.1 68.4 L829.4 69.2 L829.8 69.7 L829.8 71.0 L830.3 71.4 L830.9 71.8 L832.5 71.1 L832.1 72.7 L832.8 73.1 L833.4 73.5 L833.5 74.5 L835.3 73.6 L835.7 74.2 L835.5 75.6 L835.8 76.4 L836.7 76.5 L837.8 76.4 L837.9 77.3 L838.2 78.1 L839.6 77.7 L839.8 78.5 L840.4 78.9 L841.1 79.3 L841.1 80.3 L842.1 80.4 L842.5 81.0 L843.2 81.3 L842.9 82.6 L844.4 82.2 L843.9 83.7 L845.1 83.7 L845.7 84.2 L844.6 85.8 L846.2 85.7 L845.4 87.1 L845.9 87.6 L846.2 88.3 L847.9 88.2 L847.7 89.2 L848.7 89.5 L847.7 90.9 L848.2 91.5 L849.0 91.9 L849.6 92.4 L850.1 93.0 L849.5 94.0 L850.4 94.3 L850.5 95.1 L851.6 95.4 L851.8 96.1 L852.4 96.6 L851.5 97.7 L852.1 98.3 L853.1 98.6 L852.2 99.8 L853.5 99.9 L853.6 100.7 L854.3 101.1 L854.4 101.9 L853.7 103.0 L854.9 103.2 L855.5 103.6 L855.3 104.6 L855.9 105.0 L855.3 106.2 L857.0 106.1 L855.8 107.5 L857.7 107.3 L856.6 108.6 L857.3 109.1 L858.5 109.3 L858.3 110.1 L859.0 110.6 L859.4 111.2 L859.8 111.7 L860.0 112.6 L859.3 114.0 L859.7 114.7 L860.3 115.5 L862.2 115.2 L862.5 116.2 L862.1 117.7 L863.8 117.0 L863.6 118.5 L864.6 118.1 L866.5 118.5 L865.4 116.7 L867.1 116.8 L866.7 115.7 L866.7 114.8 L866.8 114.1 L868.5 114.1 L868.2 113.2 L867.9 112.3 L868.6 111.8 L869.7 111.4 L868.7 110.3 L869.5 109.9 L869.0 108.9 L869.3 108.3 L870.6 108.0 L870.8 107.3 L870.1 106.3 L870.1 105.6 L870.4 104.9 L871.5 104.6 L871.6 103.9 L871.4 103.1 L871.5 102.4 L872.5 102.0 L872.9 101.4 L873.4 100.8 L873.2 100.0 L872.8 99.1 L872.8 98.3 L874.2 98.1 L873.8 97.3 L874.7 96.8 L873.7 95.7 L875.3 95.5 L874.8 94.5 L875.9 94.1 L876.2 93.5 L875.9 92.5 L875.3 91.5 L877.2 91.4 L876.7 90.4 L877.6 90.0 L876.8 88.8 L877.0 88.1 L878.4 87.9 L877.9 86.8 L877.9 86.0 L878.5 85.6 L879.3 85.1 L878.6 83.9 L879.8 83.7 L880.0 83.0 L880.4 82.4 L880.1 81.5 L881.4 81.3 L881.9 80.8 L882.3 80.2 L881.7 79.0 L882.7 78.8 L882.6 77.9 L883.6 77.6 L882.8 76.3 L884.5 76.5 L885.0 76.0 L884.7 74.9 L885.1 74.3 L885.5 73.7 L885.9 73.1 L885.4 72.0 L887.4 72.4 L886.7 70.9 L887.1 70.3 L887.4 69.5 L888.1 69.1 L889.5 69.1 L888.7 67.6 L889.3 67.0 L890.4 67.3" stroke="#92D050" stroke-width="2.25"/>
<path d="M115.3 45.2 L116.0 44.9 L116.7 45.9 L117.4 45.8 L118.1 45.8 L118.8 46.1 L119.5 45.1 L120.2 46.3 L120.9 46.1 L121.7 45.0 L122.4 45.2 L123.1 45.8 L123.8 45.8 L124.5 45.4 L125.2 45.2 L125.9 45.6 L126.6 45.2 L127.3 45.9 L128.0 46.4 L128.7 45.2 L129.4 45.9 L130.1 46.2 L130.8 45.3 L131.5 46.3 L132.2 46.5 L132.9 45.7 L133.6 45.7 L134.3 46.4 L135.1 45.9 L135.8 45.7 L136.5 46.6 L137.2 46.3 L137.9 45.6 L138.6 45.5 L139.3 45.6 L140.0 45.8 L140.7 46.7 L141.4 46.4 L142.1 46.6 L142.9 46.4 L143.6 46.5 L144.3 45.2 L145.0 46.0 L145.7 46.7 L146.4 46.6 L147.1 45.5 L147.9 45.8 L148.6 46.2 L149.3 45.7 L150.0 46.0 L150.7 45.3 L151.4 45.9 L152.1 46.0 L152.9 45.2 L153.6 45.4 L154.3 46.7 L155.0 46.4 L155.7 46.7 L156.4 46.2 L157.1 46.5 L157.9 46.6 L158.6 46.6 L159.3 45.3 L160.0 46.2 L160.7 45.6 L161.4 46.3 L162.1 45.7 L162.8 46.1 L163.5 46.7 L164.2 46.2 L164.9 45.6 L165.6 46.1 L166.4 46.0 L167.1 46.8 L167.8 45.7 L168.5 45.8 L169.2 46.3 L169.9 45.5 L170.6 46.2 L171.3 46.8 L172.0 46.1 L172.7 45.7 L173.4 46.1 L174.1 46.2 L174.8 45.6 L175.5 45.5 L176.2 45.6 L177.0 45.8 L177.7 46.0 L178.4 45.8 L179.1 45.8 L179.8 45.5 L180.5 46.3 L181.2 46.7 L181.9 46.4 L182.6 46.3 L183.3 46.4 L184.0 45.8 L184.7 46.6 L185.4 46.2 L186.1 46.3 L186.8 46.4 L187.5 46.2 L188.2 46.0 L188.9 45.9 L189.6 45.9 L190.3 46.3 L191.0 46.1 L191.7 46.5 L192.4 45.6 L193.1 46.1 L193.8 46.9 L194.5 46.0 L195.2 46.5 L195.9 46.4 L196.6 46.1 L197.3 47.2 L198.0 46.1 L198.7 46.9 L199.4 45.9 L200.1 45.8 L200.8 47.1 L201.5 46.4 L202.2 45.8 L202.9 46.3 L203.6 46.4 L204.3 46.9 L205.0 45.9 L205.7 46.1 L206.4 47.3 L207.1 47.0 L207.8 46.1 L208.5 46.4 L209.2 46.4 L209.9 46.9 L210.6 46.9 L211.3 47.2 L212.0 47.2 L212.8 46.8 L213.5 47.1 L214.2 47.2 L214.9 47.2 L215.6 46.8 L216.3 47.3 L217.0 47.2 L217.7 47.5 L218.5 46.3 L219.1 47.5 L219.9 46.2 L220.6 47.4 L221.3 47.1 L222.0 47.0 L222.7 47.7 L223.5 47.2 L224.2 47.0 L224.9 47.6 L225.6 47.7 L226.4 47.4 L227.1 47.0 L227.9 47.2 L228.6 47.2 L229.3 47.7 L230.1 47.0 L230.8 47.2 L231.5 47.5 L232.3 47.3 L233.0 47.2 L233.7 48.0 L234.4 48.1 L235.1 47.5 L235.8 47.4 L236.5 47.0 L237.2 47.2 L237.9 46.9 L238.6 47.6 L239.3 47.6 L240.1 46.8 L240.8 48.2 L241.5 47.2 L242.2 48.0 L242.9 48.0 L243.6 48.2 L244.3 47.0 L245.0 47.4 L245.7 48.1 L246.3 46.7 L247.1 46.7 L247.9 47.4 L248.6 47.2 L249.3 47.8 L250.0 47.5 L250.7 47.1 L251.5 47.7 L252.1 46.9 L252.8 46.9 L253.6 47.1 L254.3 46.6 L255.0 46.5 L255.7 46.7 L256.4 46.4 L257.1 47.3 L257.9 46.8 L258.6 46.6 L259.3 45.9 L260.0 46.3 L260.9 46.6 L261.6 47.1 L262.4 47.3 L263.1 47.9 L263.6 48.3 L264.4 48.4 L265.0 48.8 L265.4 49.4 L265.7 50.2 L266.7 50.0 L267.3 50.6 L267.8 51.2 L268.8 51.0 L269.4 51.5 L269.8 52.6 L270.7 52.6 L271.4 52.2 L272.2 51.8 L272.8 53.0 L273.5 52.8 L274.2 53.0 L275.1 53.4 L275.8 52.7 L276.3 51.9 L276.8 51.3 L277.5 51.1 L278.3 51.0 L278.9 50.6 L279.4 50.0 L280.1 49.5 L280.9 50.1 L281.6 50.0 L282.3 49.6 L283.0 50.6 L283.7 50.1 L284.4 49.1 L285.1 49.7 L285.8 50.3 L286.5 49.5 L287.2 50.1 L287.9 49.0 L288.6 49.5 L289.3 50.4 L290.1 50.1 L290.8 50.3 L291.6 49.7 L292.3 50.2 L293.1 50.4 L293.9 50.1 L294.5 50.7 L295.3 50.6 L295.7 51.4 L296.6 51.3 L297.3 51.4 L298.1 51.4 L298.7 51.7 L299.1 52.7 L300.0 52.3 L300.7 52.6 L301.3 53.0 L301.8 53.6 L302.3 54.2 L303.0 54.3 L303.6 54.9 L304.5 53.9 L305.2 53.8 L305.9 55.0 L306.7 54.4 L307.4 55.0 L308.2 54.5 L308.9 54.2 L309.7 54.4 L310.3 54.2 L311.3 55.1 L311.9 54.5 L312.6 54.0 L313.4 53.9 L314.1 53.6 L314.7 52.9 L315.8 53.7 L316.4 53.1 L317.2 53.4 L317.8 52.7 L318.5 53.0 L319.2 52.5 L319.9 52.2 L320.6 53.6 L321.3 53.5 L322.0 52.7 L322.7 53.6 L323.4 53.5 L324.1 52.7 L324.8 53.2 L325.3 53.6 L326.0 53.6 L326.2 54.4 L327.2 54.5 L327.6 55.1 L327.9 55.8 L328.7 56.0 L329.2 56.6 L329.4 57.4 L330.1 57.7 L330.4 58.4 L331.3 58.5 L331.8 59.0 L332.2 59.6 L332.8 60.0 L332.8 61.0 L333.7 61.1 L334.1 61.7 L334.8 62.0 L335.1 62.7 L335.7 63.1 L336.3 63.7 L337.1 64.0 L337.6 64.5 L337.8 65.5 L338.7 65.7 L339.4 66.2 L339.9 66.5 L340.4 66.4 L341.1 66.2 L341.7 65.7 L342.7 66.3 L343.2 65.7 L343.8 65.3 L344.7 65.5 L345.1 64.6 L345.8 64.4 L346.7 64.6 L347.0 63.6 L347.8 63.5 L348.6 63.6 L349.2 63.2 L349.7 62.3 L350.5 62.4 L351.3 62.7 L351.9 62.1 L352.7 62.7 L353.4 61.5 L353.6 62.7 L354.5 62.8 L355.3 63.0 L355.7 63.6 L356.5 63.8 L356.8 64.6 L357.6 64.7 L357.7 65.6 L358.4 66.0 L358.9 66.4 L359.5 66.9 L359.7 67.6 L360.4 68.0 L360.5 68.8 L361.4 69.0 L361.6 69.7 L362.0 70.3 L362.6 70.7 L362.8 71.5 L363.4 71.9 L363.7 72.5 L364.2 73.1 L364.7 73.5 L365.1 74.1 L365.7 74.5 L366.1 75.1 L366.1 76.0 L366.9 76.3 L367.1 77.0 L367.8 77.4 L367.9 78.2 L368.4 78.8 L368.7 79.5 L369.1 80.1 L369.6 80.7 L369.8 81.4 L370.3 82.0 L370.7 82.6 L370.7 83.5 L371.3 84.0 L371.6 84.7 L371.7 85.5 L372.1 86.1 L372.4 86.8 L372.7 87.4 L373.4 87.9 L373.7 88.5 L374.1 89.1 L374.1 89.9 L374.4 90.5 L374.9 91.1 L375.1 91.7 L375.3 92.4 L375.6 93.1 L376.2 93.6 L376.2 94.4 L376.7 94.9 L376.9 95.6 L377.5 96.1 L377.8 96.7 L377.7 97.5 L378.0 98.2 L378.3 98.9 L378.8 99.4 L379.1 100.1 L379.3 100.8 L379.5 101.5 L379.7 102.2 L380.0 102.9 L380.4 103.5 L380.5 104.2 L380.6 104.9 L381.1 105.5 L381.0 106.3 L381.4 106.9 L381.6 107.6 L382.1 108.2 L382.2 108.9 L382.4 109.7 L382.8 110.3 L383.2 110.9 L383.0 111.7 L383.3 112.4 L383.8 113.0 L384.1 113.7 L384.0 114.5 L384.4 115.1 L384.9 115.7 L385.0 116.5 L385.4 117.1 L385.3 117.9 L385.8 118.5 L385.7 119.3 L386.0 120.0 L386.6 120.6 L386.6 121.3 L386.9 122.0 L386.9 122.7 L387.1 123.4 L387.4 124.1 L387.6 124.8 L387.4 125.6 L387.7 126.3 L387.7 127.0 L387.9 127.7 L388.0 128.4 L388.1 129.2 L388.3 129.9 L388.5 130.6 L388.7 131.2 L388.7 132.0 L388.9 132.7 L389.0 133.4 L389.0 134.1 L389.4 134.8 L389.3 135.6 L389.7 136.2 L389.6 137.0 L389.7 137.7 L390.0 138.4 L390.0 139.1 L390.0 139.8 L390.2 140.5 L390.4 141.2 L390.6 141.9 L390.8 142.6 L390.9 143.4 L391.0 144.1 L391.2 144.8 L391.3 145.5 L391.5 146.2 L391.4 146.9 L391.6 147.6 L391.8 148.3 L392.0 149.0 L392.0 149.8 L392.2 150.5 L392.1 151.2 L392.4 151.9 L392.5 152.6 L392.5 153.3 L392.7 154.0 L392.7 154.8 L392.8 155.5 L392.8 156.2 L392.9 156.9 L392.9 157.6 L393.2 158.4 L393.1 159.1 L393.2 159.8 L393.3 160.5 L393.3 161.2 L393.4 162.0 L393.6 162.7 L393.7 163.4 L393.7 164.1 L393.8 164.8 L393.9 165.5 L394.0 166.3 L394.0 167.0 L394.0 167.7 L394.1 168.4 L394.3 169.1 L394.3 169.8 L394.4 170.6 L394.5 171.3 L394.6 172.0 L394.6 172.7 L394.7 173.4 L394.6 174.2 L394.7 174.9 L394.9 175.6 L394.8 176.3 L394.8 177.1 L394.9 177.8 L395.1 178.5 L395.1 179.2 L395.1 179.9 L395.3 180.7 L395.2 181.4 L395.4 182.1 L395.3 182.8 L395.4 183.5 L395.4 184.3 L395.4 185.0 L395.6 185.7 L395.7 186.4 L395.8 187.1 L395.8 187.9 L395.9 188.6 L395.8 189.3 L395.9 190.0 L396.0 190.8 L396.1 191.5 L396.1 192.2 L396.1 192.9 L396.1 193.6 L396.3 194.4 L396.2 195.1 L396.2 195.8 L396.3 196.5 L396.4 197.2 L396.4 198.0 L396.3 198.7 L396.5 199.4 L396.5 200.1 L396.5 200.9 L396.5 201.6 L396.5 202.3 L396.6 203.0 L396.7 203.7 L396.6 204.5 L396.7 205.2 L396.7 205.9 L396.7 206.6 L396.7 207.4 L396.7 208.1 L396.8 208.8 L396.9 209.5 L397.0 210.2 L397.0 211.0 L397.0 211.7 L397.1 212.4 L397.0 213.1 L397.1 213.8 L397.1 214.5 L397.0 215.2 L397.1 215.9 L397.2 216.6 L397.1 217.3 L397.2 218.0 L397.1 218.8 L397.2 219.5 L397.1 220.2 L397.1 220.9 L397.2 221.6 L397.2 222.3 L397.3 223.0 L397.2 223.7 L397.3 224.4 L397.3 225.1 L397.3 225.8 L397.3 226.5 L397.3 227.2 L397.3 227.9 L397.3 228.6 L397.4 229.3 L397.4 230.1 L397.4 230.8 L397.4 231.5 L397.5 232.2 L397.5 232.9 L397.5 233.6 L397.5 234.3 L397.5 235.0 L397.5 235.7 L397.5 236.4 L397.5 237.1 L397.5 237.8 L397.5 238.5 L397.6 239.2 L397.6 239.9 L397.7 240.6 L397.6 241.3 L397.6 242.0 L397.7 242.7 L397.7 243.4 L397.6 244.1 L397.7 244.8 L397.7 245.5 L397.7 246.2 L397.8 246.9 L397.7 247.6 L397.8 248.3 L397.8 249.0 L397.8 249.7 L397.8 250.4 L397.9 251.1 L397.8 251.8 L397.9 252.5 L397.8 253.2 L397.9 253.9 L397.9 254.6 L397.9 255.3 L397.9 256.0 L398.0 256.7 L398.0 257.4 L397.9 258.1 L398.0 258.8 L398.1 259.5 L398.0 260.2 L398.1 260.9 L398.1 261.6 L398.1 262.3 L398.1 263.0 L398.1 263.7 L398.1 264.4 L398.2 265.1 L398.2 265.8 L398.3 266.5 L398.2 267.2 L398.2 267.9 L398.3 268.6 L398.3 269.3 L398.4 270.0 L398.3 270.7 L398.3 271.4 L398.3 272.1 L398.3 272.9 L398.3 273.6 L398.4 274.3 L398.3 275.0 L398.3 275.7 L398.4 276.4 L398.3 277.1 L398.4 277.9 L398.4 278.6 L398.3 279.3 L398.4 280.0 L398.3 280.7 L398.4 281.4 L398.4 282.1 L398.4 282.9 L398.4 283.6 L398.4 284.3 L398.5 285.0 L398.4 285.7 L398.4 286.4 L398.4 287.1 L398.4 287.9 L398.4 288.6 L398.4 289.3 L398.4 290.0 L398.4 290.7 L398.4 291.4 L398.4 292.1 L398.4 292.9 L398.5 293.6 L398.4 294.3 L398.5 295.0 L398.4 295.7 L398.5 296.4 L398.4 297.1 L398.5 297.9 L398.5 298.6 L398.5 299.3 L398.4 300.0 L398.5 300.7 L398.5 301.4 L398.4 302.1 L398.5 302.8 L398.4 303.5 L398.4 304.2 L398.4 304.9 L398.3 305.6 L398.3 306.3 L398.4 307.1 L398.4 307.8 L398.3 308.5 L398.2 309.2 L398.3 309.9 L398.3 310.6 L398.3 311.3 L398.3 312.0 L398.2 312.7 L398.3 313.4 L398.2 314.1 L398.3 314.8 L398.2 315.5 L398.3 316.2 L398.4 316.9 L398.3 317.6 L398.3 318.3 L398.3 319.0 L398.3 319.7 L398.3 320.4 L398.5 321.1 L398.4 321.8 L398.5 322.5 L398.5 323.2 L398.4 323.9 L398.5 324.6 L398.6 325.3 L398.6 326.0 L398.5 326.7 L398.5 327.4 L398.6 328.1 L398.6 328.8 L398.7 329.5 L398.6 330.2 L398.7 330.9 L398.6 331.6 L398.7 332.3 L398.8 333.0 L398.7 333.7 L398.7 334.4 L398.7 335.1 L398.7 335.8 L398.7 336.5 L398.7 337.2 L398.7 337.9 L398.7 338.6 L398.7 339.3 L398.7 340.0 L398.7 340.7 L398.8 341.4 L398.7 342.1 L398.7 342.8 L398.8 343.5 L398.7 344.2 L398.7 344.9 L398.8 345.6 L398.7 346.3 L398.7 347.0 L398.7 347.7 L398.7 348.4 L398.7 349.1 L398.7 349.8 L398.7 350.5 L398.7 351.2 L398.7 351.9 L398.7 352.6 L398.8 353.3 L398.7 354.1 L398.7 354.8 L398.7 355.5 L398.7 356.2 L398.7 356.9 L398.7 357.6 L398.7 358.3 L398.7 359.0 L398.7 359.7 L398.7 360.4 L398.7 361.1 L398.7 361.8 L398.7 362.5 L398.7 363.2 L398.7 363.9 L398.7 364.6 L398.7 365.3 L398.7 366.0 L398.7 366.7 L398.7 367.4 L398.8 368.1 L398.7 368.8 L398.7 369.5 L398.7 370.2 L398.7 370.9 L398.7 371.6 L398.8 372.3 L398.8 373.0 L398.7 373.7 L398.8 374.4 L398.8 375.1 L398.7 375.8 L398.7 376.5 L398.7 377.2 L398.7 377.9 L398.8 378.6 L398.8 379.3 L398.8 380.0 L398.8 380.7 L398.8 381.4 L398.7 382.1 L398.7 382.8 L398.7 383.5 L398.8 384.2 L398.7 384.9 L398.7 385.6 L398.8 386.3 L398.8 387.0 L398.7 387.7 L398.7 388.4 L398.8 389.1 L398.7 389.8 L398.8 390.5 L398.7 391.2 L398.8 391.9 L398.7 392.6 L398.7 393.3 L398.8 394.0 L398.8 394.7 L398.8 395.5 L398.8 396.2 L398.8 396.9 L398.7 397.6 L398.8 398.3 L398.8 399.0 L398.8 399.7 L398.7 400.4 L398.7 401.1 L398.7 401.8 L398.8 402.5 L398.7 403.2 L398.7 403.9 L398.7 404.6 L398.8 405.3 L398.7 406.0 L398.7 406.7 L398.8 407.4 L398.8 408.1 L398.8 408.8 L398.8 409.5 L398.7 410.2 L398.7 410.9 L398.7 411.6 L398.8 412.3 L398.8 413.0 L398.7 413.7 L398.8 414.4 L398.8 415.1 L398.7 415.8 L398.8 416.5 L398.8 417.2 L398.8 417.9 L398.8 418.6 L398.8 419.3 L398.8 420.0 L398.8 420.7 L398.8 421.4 L398.8 422.1 L398.8 422.8 L398.8 423.5 L398.7 424.2 L398.8 424.9 L398.7 425.6 L398.8 426.3 L398.8 427.0 L398.8 427.7 L398.8 428.4 L398.8 429.1 L398.8 429.8 L398.8 430.5 L398.8 431.2 L398.8 431.9 L398.7 432.6 L398.8 433.3 L398.8 434.0 L398.8 434.7 L398.8 435.4 L398.8 436.1 L398.8 436.9 L398.8 437.6 L398.8 438.3 L398.8 439.0 L398.8 439.7 L398.8 440.4 L398.8 441.1 L398.8 441.8 L398.8 442.5 L398.7 443.2 L398.8 443.9 L398.8 444.6 L398.8 445.3 L398.7 446.0 L398.8 446.7 L398.8 447.4 L398.8 448.1 L398.8 448.8 L398.8 449.5 L398.8 450.2 L398.7 450.9 L398.8 451.6 L398.8 452.3 L398.8 453.0 L398.8 453.7 L398.8 454.4 L398.8 455.1 L398.8 455.8 L398.8 456.5 L398.6 457.0 L398.8 456.5 L398.8 455.8 L398.8 455.1 L398.8 454.4 L398.8 453.7 L398.9 453.0 L398.8 452.3 L398.8 451.6 L398.8 450.9 L398.8 450.2 L398.9 449.5 L398.8 448.8 L398.8 448.1 L398.8 447.4 L398.9 446.6 L398.8 445.9 L398.8 445.2 L398.9 444.5 L398.8 443.8 L398.9 443.1 L398.8 442.4 L398.9 441.7 L398.8 441.0 L398.9 440.3 L398.8 439.6 L398.9 438.9 L398.8 438.2 L398.9 437.5 L398.9 436.8 L398.9 436.1 L398.8 435.4 L398.8 434.7 L398.8 434.0 L398.9 433.3 L398.8 432.6 L398.8 431.9 L398.9 431.2 L398.9 430.5 L398.8 429.8 L398.9 429.1 L398.8 428.4 L398.9 427.7 L398.8 427.0 L398.9 426.3 L398.9 425.5 L398.9 424.8 L398.9 424.1 L398.9 423.4 L398.9 422.7 L398.9 422.0 L398.9 421.3 L398.9 420.6 L398.9 419.9 L398.9 419.2 L398.9 418.5 L398.9 417.8 L398.9 417.1 L398.9 416.4 L398.9 415.7 L398.9 415.0 L398.9 414.3 L398.9 413.6 L398.9 412.9 L398.9 412.2 L398.9 411.5 L399.0 410.8 L398.9 410.1 L398.9 409.4 L398.9 408.7 L399.0 408.0 L398.9 407.3 L399.0 406.6 L398.9 405.9 L399.0 405.1 L398.9 404.4 L398.9 403.7 L399.0 403.0 L398.9 402.3 L398.9 401.6 L399.0 400.9 L399.0 400.2 L399.0 399.5 L399.0 398.8 L398.9 398.1 L398.9 397.4 L399.0 396.7 L399.0 396.0 L398.9 395.3 L399.0 394.6 L398.9 393.9 L398.9 393.2 L398.9 392.5 L398.9 391.8 L399.0 391.1 L398.9 390.4 L399.0 389.7 L398.9 389.0 L399.0 388.3 L398.9 387.6 L399.0 386.9 L398.9 386.2 L399.0 385.5 L398.9 384.7 L399.0 384.0 L399.0 383.3 L398.9 382.6 L399.0 381.9 L399.0 381.2 L399.0 380.5 L399.0 379.8 L399.0 379.1 L399.0 378.4 L399.0 377.7 L399.0 377.0 L399.0 376.3 L399.0 375.6 L399.0 374.9 L399.0 374.2 L399.0 373.5 L399.0 372.8 L399.0 372.1 L399.0 371.4 L399.0 370.7 L399.0 370.0 L399.0 369.3 L399.0 368.6 L399.0 367.9 L399.0 367.2 L399.0 366.5 L399.1 365.8 L399.1 365.1 L399.0 364.4 L399.0 363.6 L399.0 362.9 L399.0 362.2 L399.1 361.5 L399.0 360.8 L399.0 360.1 L399.0 359.4 L399.0 358.7 L399.1 358.0 L399.0 357.3 L399.1 356.6 L399.1 355.9 L399.0 355.2 L399.1 354.5 L399.0 353.8 L399.0 353.1 L399.0 352.4 L399.0 351.7 L399.1 351.0 L399.1 350.3 L399.1 349.6 L399.0 348.9 L399.1 348.2 L399.0 347.5 L399.1 346.8 L399.1 346.1 L399.1 345.4 L399.1 344.7 L399.0 344.0 L399.1 343.2 L399.1 342.5 L399.1 341.8 L399.1 341.1 L399.1 340.4 L399.1 339.7 L399.1 339.0 L399.1 338.3 L399.1 337.6 L399.1 336.9 L399.1 336.2 L399.1 335.5 L399.1 334.8 L399.1 334.1 L399.1 333.4 L399.1 332.7 L399.1 332.0 L399.1 331.3 L399.2 330.5 L399.1 329.8 L399.2 329.1 L399.2 328.4 L399.2 327.7 L399.2 327.0 L399.2 326.3 L399.2 325.6 L399.2 324.8 L399.3 324.1 L399.3 323.4 L399.3 322.7 L399.3 322.0 L399.4 321.3 L399.3 320.6 L399.3 319.8 L399.4 319.1 L399.4 318.4 L399.4 317.7 L399.4 317.0 L399.5 316.3 L399.5 315.6 L399.4 314.9 L399.4 314.1 L399.5 313.4 L399.5 312.7 L399.5 312.0 L399.5 311.3 L399.5 310.6 L399.5 309.9 L399.5 309.2 L399.6 308.5 L399.5 307.7 L399.5 307.0 L399.5 306.3 L399.5 305.6 L399.6 304.9 L399.6 304.2 L399.6 303.5 L399.6 302.8 L399.6 302.1 L399.6 301.4 L399.6 300.6 L399.6 299.9 L399.6 299.2 L399.6 298.5 L399.6 297.8 L399.6 297.1 L399.6 296.4 L399.6 295.7 L399.6 295.0 L399.6 294.3 L399.7 293.5 L399.6 292.8 L399.6 292.1 L399.7 291.4 L399.7 290.7 L399.7 290.0 L399.7 289.3 L399.8 288.6 L399.7 287.8 L399.8 287.1 L399.8 286.4 L399.8 285.7 L399.8 284.9 L399.9 284.2 L399.8 283.5 L399.8 282.8 L399.8 282.1 L399.9 281.3 L399.9 280.6 L399.9 279.9 L399.9 279.2 L399.9 278.4 L400.0 277.7 L400.0 277.0 L400.0 276.3 L400.0 275.6 L400.0 274.8 L400.1 274.1 L400.0 273.4 L400.1 272.7 L400.1 271.9 L400.1 271.2 L400.1 270.5 L400.1 269.8 L400.1 269.1 L400.2 268.4 L400.1 267.7 L400.2 267.0 L400.2 266.2 L400.2 265.5 L400.2 264.8 L400.2 264.1 L400.3 263.4 L400.2 262.7 L400.3 262.0 L400.3 261.3 L400.3 260.6 L400.3 259.8 L400.4 259.1 L400.3 258.4 L400.4 257.7 L400.4 257.0 L400.4 256.3 L400.4 255.6 L400.4 254.9 L400.4 254.2 L400.4 253.5 L400.5 252.8 L400.5 252.0 L400.5 251.3 L400.5 250.6 L400.5 249.9 L400.5 249.2 L400.5 248.5 L400.6 247.8 L400.5 247.1 L400.5 246.4 L400.6 245.7 L400.6 244.9 L400.6 244.2 L400.7 243.5 L400.7 242.8 L400.7 242.1 L400.6 241.4 L400.7 240.7 L400.7 240.0 L400.7 239.3 L400.8 238.6 L400.8 237.8 L400.8 237.1 L400.7 236.4 L400.8 235.7 L400.8 235.0 L400.8 234.3 L400.9 233.6 L400.8 232.8 L400.8 232.1 L400.9 231.4 L400.9 230.7 L401.0 230.0 L401.0 229.3 L401.0 228.5 L401.0 227.8 L400.9 227.1 L401.0 226.4 L401.1 225.7 L401.1 224.9 L401.1 224.2 L401.1 223.5 L401.1 222.8 L401.1 222.1 L401.2 221.3 L401.2 220.6 L401.2 219.9 L401.2 219.2 L401.2 218.5 L401.2 217.7 L401.3 217.0 L401.2 216.3 L401.4 215.6 L401.3 214.9 L401.3 214.2 L401.3 213.4 L401.4 212.7 L401.4 212.0 L401.4 211.3 L401.4 210.6 L401.4 209.9 L401.5 209.2 L401.5 208.5 L401.5 207.8 L401.6 207.0 L401.5 206.3 L401.5 205.6 L401.6 204.9 L401.6 204.2 L401.7 203.5 L401.6 202.8 L401.6 202.1 L401.7 201.4 L401.6 200.7 L401.7 200.0 L401.6 199.2 L401.7 198.5 L401.7 197.8 L401.8 197.1 L401.8 196.4 L401.8 195.7 L401.8 195.0 L401.9 194.3 L401.9 193.6 L401.9 192.8 L401.9 192.1 L402.1 191.4 L402.0 190.7 L402.1 190.0 L402.1 189.3 L402.1 188.5 L402.1 187.8 L402.3 187.1 L402.3 186.4 L402.3 185.7 L402.4 185.0 L402.3 184.2 L402.5 183.5 L402.5 182.8 L402.4 182.1 L402.5 181.4 L402.6 180.7 L402.6 180.0 L402.8 179.3 L402.7 178.5 L402.8 177.8 L402.9 177.1 L402.9 176.4 L403.0 175.7 L402.9 175.0 L403.1 174.3 L403.1 173.6 L403.2 172.8 L403.2 172.1 L403.3 171.4 L403.4 170.7 L403.4 170.0 L403.3 169.3 L403.5 168.6 L403.6 167.9 L403.5 167.1 L403.6 166.4 L403.6 165.7 L403.7 165.0 L403.8 164.3 L403.8 163.6 L403.9 162.9 L403.9 162.2 L404.1 161.5 L404.0 160.7 L404.2 160.0 L404.2 159.3 L404.3 158.6 L404.3 157.9 L404.3 157.2 L404.4 156.5 L404.6 155.8 L404.6 155.1 L404.8 154.4 L404.7 153.7 L404.9 153.0 L405.1 152.3 L405.1 151.6 L405.2 150.9 L405.1 150.2 L405.2 149.5 L405.3 148.8 L405.6 148.2 L405.7 147.5 L405.6 146.7 L405.9 146.1 L405.7 145.4 L406.0 144.7 L406.1 144.0 L406.1 143.3 L406.3 142.6 L406.3 141.9 L406.2 141.2 L406.4 140.5 L406.5 139.8 L406.5 139.1 L406.8 138.4 L406.8 137.7 L407.2 137.0 L407.2 136.2 L407.2 135.5 L407.6 134.8 L407.6 134.1 L408.0 133.4 L408.2 132.7 L408.3 132.0 L408.5 131.3 L408.5 130.5 L408.8 129.8 L408.9 129.1 L409.3 128.4 L409.4 127.7 L410.1 127.3 L410.4 126.7 L410.8 126.1 L411.3 125.8 L411.8 126.2 L412.2 127.0 L412.1 127.9 L412.8 128.5 L412.9 129.4 L413.2 130.1 L413.6 130.7 L413.9 131.4 L414.1 132.1 L414.0 132.9 L414.5 133.6 L414.5 134.3 L414.7 135.1 L415.0 135.7 L415.1 136.5 L415.4 137.2 L415.4 137.9 L415.6 138.7 L415.9 139.4 L416.1 140.1 L416.3 140.8 L416.6 141.5 L416.8 142.2 L417.0 143.0 L417.0 143.8 L417.4 144.5 L417.4 145.3 L418.5 145.4 L418.5 146.5 L419.3 146.8 L419.9 146.3 L420.2 145.6 L420.7 145.0 L420.9 144.2 L421.2 143.6 L421.1 142.9 L421.3 142.2 L421.4 141.4 L421.6 140.8 L421.8 140.1 L421.8 139.3 L422.2 138.7 L422.0 137.9 L422.3 137.2 L422.4 136.5 L422.6 135.8 L422.8 135.1 L422.8 134.4 L422.8 133.6 L422.9 132.9 L423.1 132.2 L423.3 131.5 L423.1 130.8 L423.3 130.1 L423.4 129.3 L423.6 128.6 L423.5 127.9 L423.7 127.2 L423.7 126.4 L423.9 125.7 L423.8 125.0 L424.1 124.3 L424.0 123.6 L424.1 122.9 L424.1 122.2 L424.2 121.5 L424.4 120.8 L424.4 120.1 L424.4 119.3 L424.5 118.6 L424.5 117.9 L424.6 117.2 L424.7 116.5 L424.8 115.8 L425.0 115.1 L425.1 114.4 L425.1 113.7 L425.1 113.0 L425.2 112.3 L425.3 111.6 L425.4 110.9 L425.5 110.2 L425.5 109.4 L425.5 108.7 L425.6 108.0 L425.8 107.3 L425.8 106.6 L425.7 105.9 L426.0 105.2 L426.0 104.5 L426.1 103.8 L426.5 103.1 L426.5 102.4 L426.6 101.7 L426.6 100.9 L426.9 100.3 L427.1 99.6 L427.2 98.9 L427.3 98.2 L427.5 97.5 L427.6 96.8 L427.6 96.0 L427.7 95.3 L428.0 94.6 L428.1 93.9 L428.3 93.2 L428.2 92.5 L428.6 91.8 L428.6 91.1 L429.0 90.5 L428.8 89.7 L429.4 89.1 L429.5 88.4 L429.5 87.6 L429.9 87.0 L429.9 86.2 L430.1 85.5 L430.4 84.9 L430.5 84.1 L430.8 83.5 L431.2 82.8 L431.3 82.1 L431.5 81.4 L431.6 80.7 L431.9 80.1 L432.3 79.5 L432.6 78.8 L433.1 78.3 L433.4 77.6 L433.5 76.8 L433.7 76.1 L434.3 75.7 L434.8 75.1 L434.9 74.3 L435.4 73.8 L435.8 73.2 L436.2 72.6 L436.2 71.7 L437.0 71.4 L437.3 70.6 L437.9 70.2 L438.8 70.1 L439.1 69.3 L439.7 68.9 L440.2 68.3 L440.6 67.7 L441.0 67.1 L441.6 66.6 L442.4 66.3 L442.8 65.7 L443.1 64.9 L443.4 64.3 L444.1 63.8 L444.8 63.6 L445.2 62.8 L445.9 63.2 L446.5 63.6 L447.4 62.6 L448.0 63.6 L448.8 62.7 L449.5 63.9 L449.7 62.8 L450.3 62.3 L451.3 62.3 L451.4 61.4 L451.8 60.8 L452.8 60.8 L453.1 60.1 L453.8 59.8 L454.2 59.1 L454.9 58.8 L455.8 59.0 L456.2 58.2 L457.1 58.3 L457.3 57.1 L458.2 57.5 L458.5 56.5 L459.3 56.4 L459.6 55.5 L460.4 55.3 L461.5 55.6 L461.8 54.7 L462.6 54.6 L462.9 53.7 L463.6 53.3 L464.3 52.7 L465.2 53.2 L466.1 53.4 L466.7 52.8 L467.4 52.4 L468.3 53.0 L469.1 52.7 L469.7 52.2 L470.3 51.2 L471.1 51.9 L471.8 51.5 L472.6 52.2 L473.2 51.2 L473.9 51.6 L474.6 51.4 L475.3 50.9 L476.0 51.0 L476.7 51.2 L477.5 51.5 L478.1 50.7 L478.8 50.4 L479.5 51.4 L480.2 49.7 L480.9 51.1 L481.6 50.8 L482.3 50.5 L483.0 50.3 L483.7 50.8 L484.4 51.0 L485.1 50.6 L485.8 50.6 L486.5 49.3 L487.2 49.8 L487.8 49.4 L488.7 50.8 L489.4 50.6 L489.9 49.2 L490.7 50.0 L491.4 49.9 L492.0 48.9 L492.8 49.4 L493.5 50.0 L494.2 49.8 L494.9 49.1 L495.6 49.9 L496.3 49.0 L497.1 49.3 L497.8 49.0 L498.6 50.0 L499.3 49.3 L500.0 49.5 L500.7 49.2 L501.4 48.6 L502.2 49.7 L502.8 49.2 L503.5 49.1 L504.2 48.3 L504.9 48.0 L505.7 48.7 L506.4 49.2 L507.1 49.1 L507.7 48.2 L508.4 47.7 L509.2 48.4 L509.9 49.0 L510.5 47.6 L511.3 48.7 L512.0 47.6 L512.7 47.8 L513.4 47.3 L514.1 47.7 L514.9 47.9 L515.6 49.0 L516.4 48.9 L517.0 47.4 L517.7 47.6 L518.5 48.8 L519.2 47.3 L519.9 47.5 L520.6 47.7 L521.3 47.1 L522.1 47.3 L522.8 47.6 L523.5 47.5 L524.3 48.6 L524.9 47.2 L525.7 47.1 L526.4 48.5 L527.1 47.5 L527.9 48.3 L528.6 47.8 L529.3 48.1 L530.0 47.1 L530.7 46.8 L531.5 48.0 L532.2 47.4 L532.9 47.6 L533.6 47.8 L534.4 47.9 L535.1 46.9 L535.8 47.1 L536.6 48.2 L537.3 47.4 L538.0 46.9 L538.7 47.6 L539.4 46.8 L540.2 47.9 L540.9 46.3 L541.6 48.0 L542.4 47.4 L543.1 46.9 L543.8 48.2 L544.5 46.7 L545.3 46.7 L546.0 46.3 L546.7 47.3 L547.4 47.7 L548.1 47.6 L548.8 47.0 L549.5 47.8 L550.2 46.3 L550.9 46.7 L551.6 47.4 L552.3 48.1 L553.0 47.4 L553.7 47.5 L554.4 47.7 L555.1 46.8 L555.8 48.0 L556.5 47.6 L557.2 46.7 L557.9 46.8 L558.6 47.7 L559.3 46.7 L560.0 46.3 L560.7 47.8 L561.4 47.1 L562.1 47.1 L562.9 47.4 L563.6 47.9 L564.3 46.2 L565.0 46.7 L565.7 46.1 L566.4 46.9 L567.1 47.1 L567.8 47.9 L568.6 47.5 L569.3 47.3 L570.0 46.9 L570.7 47.3 L571.4 46.6 L572.1 47.9 L572.9 47.8 L573.6 47.9 L574.3 46.4 L575.0 47.5 L575.7 47.7 L576.4 47.2 L577.1 48.1 L577.8 48.1 L578.6 47.7 L579.3 47.9 L580.0 47.5 L580.6 48.1 L581.5 46.5 L582.1 47.8 L582.8 47.8 L583.5 47.7 L584.2 47.0 L585.0 46.6 L585.6 47.8 L586.2 48.4 L587.0 47.2 L587.7 47.1 L588.4 47.2 L589.2 47.0 L589.8 48.3 L590.4 49.0 L591.2 48.7 L591.9 47.7 L592.6 48.5 L593.4 47.2 L593.9 49.0 L594.7 47.9 L595.5 47.2 L596.1 48.6 L596.8 47.6 L597.5 47.9 L598.2 47.3 L598.9 48.3 L599.6 48.5 L600.3 49.1 L601.0 47.3 L601.7 49.2 L602.4 47.5 L603.1 47.7 L603.8 48.7 L604.5 48.0 L605.2 48.0 L605.9 48.6 L606.6 47.7 L607.3 49.1 L608.0 47.7 L608.7 49.2 L609.4 49.1 L610.1 48.5 L610.8 47.3 L611.5 49.1 L612.2 47.3 L612.9 48.4 L613.6 48.2 L614.5 47.6 L615.0 48.9 L615.7 49.2 L616.5 49.1 L617.2 48.8 L617.9 49.2 L618.6 49.4 L619.5 48.8 L620.0 50.2 L620.6 50.6 L621.4 50.4 L622.1 50.8 L623.0 49.6 L623.9 51.1 L624.1 49.1 L625.1 49.4 L625.6 48.5 L626.5 48.7 L627.4 48.7 L628.1 48.4 L628.7 47.6 L629.5 47.6 L630.2 47.5 L630.8 48.1 L631.5 48.1 L632.2 48.1 L632.6 49.3 L633.4 49.1 L634.1 49.1 L634.9 48.9 L635.3 50.0 L636.3 49.3 L636.9 49.6 L637.4 50.3 L638.0 50.8 L638.7 51.7 L639.6 51.0 L640.3 51.3 L641.0 51.2 L641.7 50.7 L642.4 50.6 L642.9 49.1 L643.6 49.3 L644.3 48.8 L645.2 50.5 L645.9 50.1 L646.5 49.8 L647.1 48.9 L647.9 48.9 L648.5 48.4 L649.4 49.1 L650.3 49.6 L650.8 48.1 L651.4 47.4 L652.3 47.3 L653.1 48.0 L653.5 49.2 L654.2 49.3 L655.1 48.9 L656.0 48.4 L656.7 48.6 L657.4 48.9 L657.8 50.3 L658.6 49.9 L659.0 51.1 L659.8 51.1 L660.6 51.3 L661.4 50.5 L662.2 51.1 L662.8 49.5 L663.5 49.4 L664.3 50.3 L665.0 50.1 L665.7 49.4 L666.4 49.4 L667.1 48.8 L668.0 50.6 L668.7 50.1 L669.5 50.5 L670.2 50.5 L670.8 49.3 L671.4 50.0 L672.3 49.6 L672.8 50.6 L673.5 50.8 L674.6 49.8 L675.3 49.8 L675.9 50.3 L676.5 51.2 L677.3 51.0 L678.2 50.6 L678.5 52.3 L679.2 52.4 L680.1 52.0 L680.9 51.3 L681.6 53.1 L682.2 52.2 L682.9 51.2 L683.7 51.7 L684.4 52.3 L685.2 52.8 L685.8 51.8 L686.6 52.1 L687.2 51.1 L688.0 51.1 L688.8 52.5 L689.4 51.3 L690.1 50.6 L690.9 51.6 L691.8 51.0 L692.4 51.4 L692.9 52.1 L693.5 52.6 L694.2 52.9 L694.8 53.3 L695.6 53.1 L696.5 52.8 L696.8 54.1 L697.8 53.1 L698.3 54.0 L699.1 53.8 L699.7 54.5 L700.5 54.6 L701.2 53.6 L701.9 54.6 L702.6 54.7 L703.4 54.2 L704.1 53.5 L704.8 55.3 L705.5 54.6 L706.3 53.4 L707.0 53.9 L707.6 55.6 L708.5 53.9 L709.2 54.3 L709.9 55.3 L710.7 55.4 L711.5 55.0 L712.2 55.3 L713.0 53.7 L713.8 53.8 L714.2 55.7 L714.9 55.6 L716.1 55.0 L716.7 55.3 L717.2 56.0 L717.2 57.3 L718.4 56.7 L718.6 57.7 L719.0 58.4 L719.9 58.4 L720.2 59.2 L721.3 58.5 L721.8 58.2 L722.5 57.8 L723.4 59.3 L724.0 57.8 L724.9 59.6 L725.6 58.9 L726.2 57.7 L727.1 59.0 L727.6 57.5 L728.4 58.2 L729.0 57.2 L729.9 58.6 L730.7 58.7 L731.1 58.6 L732.3 57.5 L732.3 59.0 L733.1 59.0 L733.5 59.7 L734.4 59.6 L735.0 60.1 L735.6 60.5 L736.0 61.1 L737.3 60.6 L737.9 61.1 L738.1 62.2 L739.0 62.3 L739.5 62.9 L740.4 62.7 L740.7 64.1 L741.7 62.7 L742.1 64.6 L742.9 64.6 L743.7 64.0 L744.6 63.4 L745.2 64.7 L746.1 63.9 L746.7 64.5 L747.7 64.4 L747.6 66.0 L748.6 65.7 L749.4 65.8 L750.2 65.7 L750.3 67.0 L750.9 67.6 L751.5 67.8 L752.7 67.5 L752.9 68.3 L753.5 68.7 L753.5 69.7 L754.7 69.6 L754.7 70.6 L754.8 71.5 L755.5 71.8 L756.8 71.5 L757.3 72.1 L757.7 72.7 L757.6 73.8 L758.2 74.3 L758.8 74.8 L759.3 75.4 L759.9 75.9 L760.2 76.7 L760.6 77.3 L760.8 78.1 L761.5 78.5 L761.9 79.1 L762.2 79.8 L762.7 80.3 L763.3 80.7 L764.4 80.7 L764.2 81.8 L764.4 82.6 L765.3 82.8 L765.2 83.7 L766.4 83.7 L766.0 84.9 L767.0 85.1 L767.1 85.9 L767.9 86.1 L768.3 86.8 L768.6 87.4 L769.0 88.0 L769.6 88.5 L769.6 89.3 L769.4 90.3 L770.2 90.7 L770.2 91.5 L770.8 91.9 L771.0 92.6 L771.0 93.3 L771.5 94.0 L772.2 94.5 L772.4 95.2 L772.4 96.0 L773.0 96.6 L773.0 97.3 L772.6 98.2 L772.8 98.9 L773.6 99.5 L773.3 100.3 L773.5 100.9 L773.5 101.7 L773.8 102.3 L774.2 103.0 L774.7 103.6 L774.2 104.4 L774.8 105.0 L774.7 105.8 L775.0 106.4 L775.0 107.1 L774.8 107.9 L775.7 108.5 L775.5 109.2 L775.5 109.9 L775.8 110.6 L775.6 111.4 L776.2 112.0 L775.9 112.8 L776.2 113.4 L776.1 114.2 L777.1 114.7 L777.1 115.4 L777.2 116.1 L776.8 116.9 L777.8 117.4 L777.7 118.1 L777.4 118.9 L777.3 119.7 L778.2 120.2 L778.1 120.9 L778.1 121.7 L778.2 122.4 L778.3 123.1 L778.5 123.8 L779.1 124.3 L779.3 125.1 L779.7 125.7 L779.3 126.6 L779.9 127.2 L780.1 127.9 L779.6 128.8 L780.1 129.4 L780.3 130.1 L780.4 130.8 L780.7 131.5 L780.8 132.2 L781.3 132.8 L781.7 133.5 L781.9 134.2 L782.1 134.9 L781.9 135.7 L782.2 136.4 L782.3 137.2 L782.1 137.9 L781.8 138.7 L782.1 139.4 L782.6 140.1 L782.3 140.9 L782.9 141.5 L783.0 142.3 L783.0 143.0 L783.0 143.8 L782.8 144.5 L783.1 145.2 L783.0 146.0 L783.6 146.7 L783.0 147.5 L783.6 148.1 L783.3 148.9 L784.1 149.5 L783.5 150.3 L784.1 151.0 L783.7 151.7 L783.8 152.4 L784.0 153.1 L784.4 153.8 L784.7 154.5 L784.7 155.2 L784.2 156.0 L784.9 156.7 L784.6 157.4 L784.8 158.1 L784.8 158.9 L785.3 159.5 L785.4 160.2 L785.5 160.9 L784.9 161.7 L785.5 162.4 L785.3 163.1 L785.5 163.8 L785.9 164.5 L786.1 165.2 L786.2 165.9 L785.6 166.7 L786.3 167.3 L785.7 168.1 L786.3 168.7 L786.1 169.5 L786.6 170.1 L786.2 170.9 L786.7 171.5 L786.7 172.2 L786.6 173.0 L787.0 173.6 L787.0 174.3 L786.7 175.1 L787.2 175.8 L787.2 176.5 L787.0 177.2 L787.5 177.9 L787.6 178.6 L787.6 179.3 L787.6 180.0 L787.7 180.7 L787.6 181.4 L787.8 182.1 L787.6 182.9 L788.3 183.5 L787.9 184.3 L787.9 185.0 L788.5 185.7 L788.7 186.4 L788.5 187.1 L788.9 187.8 L788.7 188.6 L788.6 189.3 L789.2 190.0 L789.2 190.7 L789.0 191.4 L789.4 192.1 L789.4 192.8 L789.4 193.6 L789.7 194.2 L789.9 194.9 L789.7 195.7 L789.8 196.4 L789.5 197.2 L789.9 197.8 L790.5 198.4 L790.4 199.2 L790.1 199.9 L790.4 200.6 L790.2 201.4 L790.3 202.1 L790.8 203.6 L790.6 201.9 L791.4 201.4 L791.2 200.6 L791.1 199.9 L791.2 199.1 L791.9 198.6 L791.4 197.8 L791.5 197.0 L791.7 196.4 L792.4 195.8 L792.2 195.0 L792.5 194.3 L792.0 193.6 L792.4 192.9 L792.4 192.2 L792.4 191.5 L792.8 190.8 L792.7 190.1 L792.6 189.4 L793.3 188.8 L793.0 188.0 L792.9 187.3 L792.8 186.6 L793.4 186.0 L793.4 185.3 L793.1 184.5 L793.5 183.9 L793.8 183.2 L793.7 182.5 L793.6 181.8 L793.9 181.1 L794.0 180.4 L794.2 179.7 L793.8 179.0 L794.4 178.3 L794.6 177.6 L794.5 176.9 L794.7 176.2 L794.4 175.5 L794.9 174.8 L794.4 174.0 L794.6 173.3 L794.9 172.7 L795.2 172.0 L794.7 171.2 L794.9 170.5 L794.8 169.8 L795.2 169.1 L795.1 168.4 L795.2 167.7 L795.7 167.1 L795.6 166.3 L796.0 165.7 L795.7 164.9 L796.0 164.2 L795.5 163.5 L796.3 162.9 L795.8 162.1 L796.1 161.4 L796.2 160.7 L796.7 160.0 L796.4 159.3 L796.9 158.6 L796.7 157.9 L796.5 157.1 L797.0 156.5 L796.6 155.7 L797.4 155.1 L797.0 154.3 L796.9 153.5 L797.6 152.9 L797.2 152.1 L797.4 151.4 L797.4 150.7 L797.8 150.0 L797.3 149.2 L797.7 148.6 L797.6 147.8 L798.3 147.2 L797.7 146.4 L798.3 145.7 L798.1 145.0 L798.4 144.3 L798.6 143.6 L798.8 142.9 L798.5 142.1 L798.7 141.4 L798.7 140.7 L799.5 140.1 L799.0 139.2 L799.1 138.5 L799.5 137.9 L799.7 137.2 L800.1 136.5 L799.5 135.7 L799.8 135.0 L799.8 134.2 L800.2 133.6 L800.2 132.8 L800.3 132.1 L800.7 131.4 L800.6 130.7 L800.9 130.0 L801.0 129.3 L800.6 128.5 L801.2 127.8 L800.8 127.0 L800.6 126.3 L801.4 125.6 L800.9 124.9 L800.9 124.1 L801.2 123.4 L801.3 122.7 L801.9 122.1 L801.9 121.4 L801.7 120.6 L801.9 119.9 L802.3 119.2 L802.4 118.5 L802.4 117.8 L802.4 117.1 L802.2 116.3 L802.4 115.6 L802.9 115.0 L803.0 114.3 L803.3 113.6 L803.5 112.9 L803.7 112.2 L803.1 111.4 L803.2 110.7 L804.0 110.1 L803.8 109.3 L803.6 108.5 L804.3 107.9 L804.0 107.1 L804.2 106.4 L804.5 105.7 L804.8 105.1 L805.1 104.4 L804.7 103.5 L805.5 103.0 L805.6 102.2 L805.6 101.5 L806.0 100.8 L806.3 100.1 L805.7 99.3 L806.3 98.6 L806.7 98.0 L806.9 97.3 L807.0 96.6 L806.7 95.7 L807.6 95.2 L807.7 94.5 L807.4 93.7 L807.8 93.1 L808.6 92.6 L808.0 91.7 L808.5 91.1 L809.2 90.6 L809.4 89.9 L809.0 89.0 L809.7 88.5 L809.6 87.7 L810.1 87.2 L810.4 86.5 L810.0 85.6 L810.3 85.0 L810.6 84.3 L811.0 83.7 L811.0 82.9 L811.4 82.3 L812.0 81.7 L812.3 81.1 L812.3 80.2 L813.1 79.8 L813.8 79.3 L813.7 78.5 L813.7 77.7 L814.4 77.2 L814.4 76.4 L814.4 75.6 L815.2 75.2 L815.1 74.2 L816.3 74.2 L816.1 73.2 L816.8 72.7 L817.8 72.6 L818.0 71.9 L818.5 71.3 L818.7 70.6 L819.1 70.0 L819.8 69.7 L820.6 69.5 L820.4 68.1 L821.5 68.4 L821.6 67.3 L822.1 66.8 L823.2 67.0 L823.5 66.3 L824.3 66.1 L824.9 65.8 L825.2 65.0 L825.4 64.0 L825.8 63.4 L826.9 63.6 L827.6 63.5 L827.7 62.4 L828.1 61.8 L828.6 61.2 L829.4 61.0 L830.5 61.5 L830.5 60.1 L831.4 60.0 L832.0 59.7 L833.0 60.0 L833.9 60.1 L833.7 58.2 L834.5 58.1 L835.8 59.2 L836.4 59.0 L836.5 57.3 L837.3 57.3 L838.1 57.4 L838.7 56.7 L839.4 56.6 L840.1 56.4 L840.7 55.8 L841.3 55.1 L842.0 55.0 L842.7 55.0 L843.3 54.7 L844.3 55.6 L845.0 55.6 L845.4 54.5 L846.4 55.4 L847.0 55.1 L847.5 54.2 L848.3 54.4 L849.0 53.6 L850.0 55.1 L850.6 54.2 L851.2 53.0 L852.0 53.1 L852.9 54.1 L853.5 53.4 L854.4 54.0 L855.0 52.8 L855.9 54.0 L856.6 53.9 L857.2 52.3 L858.0 53.3 L858.7 52.3 L859.6 53.4 L860.3 53.6 L861.1 53.5 L861.7 52.1 L862.3 51.8 L863.1 53.1 L863.8 52.8 L864.5 51.8 L865.2 51.9 L865.9 52.7 L866.5 51.6 L867.3 52.7 L868.0 51.8 L868.7 51.8 L869.4 52.1 L870.1 52.4 L870.8 52.8 L871.4 51.1 L872.2 52.7 L872.9 51.5 L873.6 51.6 L874.3 52.4 L875.0 52.4 L875.7 52.3 L876.4 52.9 L877.1 51.3 L877.8 51.5 L878.5 52.3 L879.2 51.4 L879.9 51.1 L880.6 51.3 L881.3 52.6 L882.0 52.7 L882.7 52.4 L883.4 53.0 L884.1 52.6 L884.8 51.4 L885.5 51.4 L886.2 52.4 L886.9 50.8 L887.6 52.1 L888.3 50.9 L889.0 50.7 L889.7 51.8 L890.4 51.0" stroke="#0070C0" stroke-width="1.55"/>
<path d="M115.3 46.2 L116.0 46.2 L116.8 45.9 L117.6 45.7 L118.3 45.7 L119.0 46.1 L119.8 46.2 L120.5 46.1 L121.2 46.4 L122.0 46.3 L122.7 46.6 L123.5 46.2 L124.2 46.3 L124.9 46.6 L125.6 46.8 L125.8 47.5 L125.8 48.2 L126.1 48.8 L126.2 49.5 L126.3 50.2 L126.4 50.9 L126.7 51.8 L126.7 50.8 L126.9 50.1 L127.2 49.3 L127.4 48.6 L127.5 47.8 L127.5 46.8 L128.3 46.9 L129.1 47.0 L129.8 46.7 L130.5 46.4 L131.3 47.2 L132.1 47.0 L132.8 46.3 L133.5 46.6 L134.3 46.7 L135.0 46.3 L135.7 46.1 L136.4 46.8 L137.1 46.8 L137.9 46.5 L138.6 46.2 L139.3 46.5 L140.0 46.3 L140.7 47.0 L141.5 46.3 L142.2 46.5 L142.9 46.9 L143.6 46.4 L144.3 46.4 L145.1 46.4 L145.8 46.5 L146.5 46.9 L147.2 47.2 L147.9 46.6 L148.6 46.7 L149.3 47.2 L150.1 46.9 L150.8 46.9 L151.5 46.7 L152.2 46.9 L152.9 47.5 L153.7 46.8 L154.4 47.0 L155.1 47.4 L155.8 47.6 L156.5 47.7 L157.3 47.3 L158.0 47.8 L158.7 47.5 L159.4 47.2 L160.1 47.3 L160.8 47.5 L161.5 47.5 L162.2 46.9 L162.9 46.9 L163.7 47.6 L164.3 46.8 L165.1 47.4 L165.8 46.9 L166.5 46.8 L167.2 46.8 L167.9 47.0 L168.6 47.4 L169.3 46.6 L170.0 47.2 L170.7 46.8 L171.4 46.7 L172.1 47.2 L172.9 46.9 L173.6 46.8 L174.3 47.0 L175.0 47.4 L175.7 47.5 L176.5 47.2 L177.2 46.8 L177.9 47.5 L178.6 47.4 L179.3 47.7 L180.0 47.7 L180.8 47.2 L181.5 47.7 L182.1 47.8 L182.9 47.6 L183.6 47.9 L184.3 48.0 L185.0 48.2 L185.7 48.4 L186.4 48.4 L187.1 48.7 L187.7 49.4 L188.4 49.2 L189.1 49.5 L189.7 49.9 L190.5 50.0 L191.2 49.5 L191.9 50.0 L192.6 49.8 L193.4 49.8 L194.0 49.5 L194.7 49.4 L195.4 49.4 L196.1 48.9 L196.8 49.1 L197.5 48.8 L198.2 49.0 L198.9 48.4 L199.6 48.6 L200.3 48.4 L201.0 48.7 L201.7 48.3 L202.4 48.8 L203.1 48.9 L203.8 49.0 L204.6 48.4 L205.2 49.1 L205.9 49.0 L206.7 49.0 L207.4 49.1 L208.1 48.6 L208.8 49.4 L209.5 49.1 L210.2 49.2 L211.0 49.3 L211.6 49.7 L212.3 49.9 L213.1 50.1 L213.9 49.7 L214.6 50.0 L215.3 50.1 L216.0 50.0 L216.8 50.1 L217.5 49.7 L218.4 50.1 L219.2 49.6 L220.0 49.2 L220.8 49.6 L221.3 50.3 L222.1 50.2 L222.7 50.6 L223.4 50.9 L223.9 51.4 L224.6 51.8 L225.4 51.6 L226.0 52.1 L226.5 52.6 L227.3 52.7 L227.7 53.3 L228.4 53.6 L229.2 53.8 L229.6 54.4 L230.4 54.7 L231.1 54.8 L231.6 55.4 L232.1 55.9 L232.9 56.1 L233.5 56.5 L234.2 56.1 L235.0 56.0 L235.7 55.5 L236.3 54.9 L237.0 54.6 L237.7 54.3 L238.6 54.3 L239.3 54.1 L240.0 53.5 L240.8 54.1 L241.5 53.3 L242.3 53.7 L243.0 53.5 L243.8 53.7 L244.5 53.3 L245.3 53.5 L245.8 54.1 L246.4 54.6 L247.1 54.9 L247.9 55.0 L248.6 55.3 L249.1 56.0 L249.7 56.3 L250.6 56.3 L251.0 57.0 L251.7 57.4 L252.5 57.4 L253.1 57.7 L253.7 58.2 L254.3 58.6 L255.1 58.5 L255.8 58.8 L256.4 59.2 L256.9 59.7 L257.7 59.7 L258.3 60.2 L258.8 60.7 L259.2 61.2 L259.9 61.5 L260.1 62.3 L260.6 62.8 L261.3 63.2 L261.7 63.7 L262.4 64.0 L262.6 64.8 L263.3 65.1 L263.7 65.8 L264.1 66.5 L264.7 67.0 L264.9 67.8 L265.7 68.3 L266.1 68.7 L266.7 68.7 L267.5 68.5 L268.2 68.2 L268.9 67.9 L269.5 67.3 L270.3 67.2 L270.9 66.6 L271.4 65.9 L272.2 65.6 L272.9 65.2 L273.4 64.5 L274.0 64.1 L274.8 63.8 L275.6 63.9 L276.4 64.1 L277.1 64.2 L277.9 64.2 L278.7 63.9 L279.6 64.0 L280.1 64.6 L280.6 65.2 L281.1 65.7 L281.9 65.8 L282.4 66.3 L282.9 66.8 L283.6 67.1 L283.8 67.8 L284.1 68.5 L284.7 68.9 L285.0 69.6 L285.3 70.3 L285.7 70.9 L286.1 71.5 L286.4 72.1 L287.0 72.5 L287.2 73.3 L287.5 73.9 L288.2 74.3 L288.3 75.1 L288.8 75.6 L289.2 76.2 L289.4 76.9 L289.4 77.7 L289.7 78.4 L290.2 79.0 L290.3 79.7 L290.5 80.4 L290.6 81.1 L291.1 81.8 L291.2 82.5 L291.6 83.1 L291.9 83.8 L292.1 84.5 L292.3 85.2 L292.5 85.9 L292.8 86.5 L293.1 87.2 L293.4 87.9 L293.6 88.6 L293.9 89.3 L294.1 89.9 L294.6 90.5 L295.3 90.8 L295.8 91.3 L296.4 91.8 L296.8 92.5 L297.6 92.7 L298.0 93.4 L298.8 93.6 L299.5 93.9 L300.0 94.5 L300.8 94.6 L301.5 95.0 L302.3 95.3 L302.8 96.0 L303.4 96.6 L304.3 96.6 L305.0 96.9 L305.6 97.5 L306.3 97.9 L306.7 98.6 L307.4 99.0 L308.1 99.4 L308.3 100.2 L308.8 100.8 L309.5 101.3 L309.6 102.2 L310.1 102.8 L310.6 103.3 L311.0 104.0 L311.1 104.7 L311.5 105.4 L311.7 106.1 L312.0 106.7 L312.1 107.5 L312.3 108.2 L312.5 108.9 L312.7 109.6 L313.2 110.2 L313.4 110.9 L313.4 111.7 L313.7 112.3 L314.0 113.0 L314.1 113.7 L314.3 114.4 L314.3 115.1 L314.6 115.8 L314.7 116.4 L315.0 117.1 L315.1 117.8 L315.0 118.5 L315.2 119.2 L315.6 119.8 L315.6 120.6 L315.7 121.2 L315.9 121.9 L316.1 122.6 L316.0 123.3 L316.3 124.0 L316.4 124.7 L316.5 125.5 L316.7 126.2 L316.9 126.9 L317.1 127.6 L317.2 128.3 L317.3 129.1 L317.4 129.8 L317.7 130.5 L317.8 131.2 L317.9 131.9 L318.1 132.7 L318.1 133.4 L318.3 134.1 L318.5 134.8 L318.6 135.5 L318.5 136.3 L318.8 136.9 L318.8 137.7 L319.1 138.4 L319.1 139.1 L319.3 139.8 L319.2 140.5 L319.5 141.2 L319.6 141.9 L319.7 142.6 L319.8 143.4 L319.8 144.1 L319.9 144.8 L319.9 145.5 L320.0 146.2 L320.2 146.9 L320.2 147.6 L320.6 148.3 L320.5 149.1 L320.7 149.8 L320.9 150.5 L320.8 151.2 L320.9 151.9 L321.1 152.6 L321.2 153.3 L321.1 154.0 L321.2 154.8 L321.4 155.5 L321.3 156.2 L321.6 156.9 L321.7 157.6 L321.8 158.3 L321.9 159.0 L321.8 159.7 L321.9 160.4 L322.1 161.1 L322.1 161.9 L322.2 162.6 L322.2 163.3 L322.2 164.0 L322.3 164.7 L322.5 165.4 L322.4 166.2 L322.6 166.9 L322.7 167.6 L322.8 168.3 L322.9 169.0 L322.8 169.7 L322.9 170.4 L323.0 171.1 L323.2 171.8 L323.3 172.5 L323.4 173.3 L323.4 174.0 L323.4 174.7 L323.6 175.4 L323.6 176.1 L323.6 176.8 L323.8 177.5 L323.8 178.2 L323.8 178.9 L323.9 179.6 L324.0 180.3 L324.0 181.0 L324.1 181.7 L324.3 182.4 L324.3 183.1 L324.3 183.8 L324.4 184.5 L324.4 185.2 L324.6 185.9 L324.7 186.6 L324.8 187.3 L324.8 188.0 L324.8 188.7 L325.1 189.4 L324.9 190.1 L325.0 190.8 L325.2 191.5 L325.3 192.2 L325.2 192.9 L325.4 193.6 L325.4 194.3 L325.5 195.0 L325.5 195.7 L325.7 196.4 L325.6 197.1 L325.7 197.8 L325.8 198.5 L325.9 199.2 L326.1 199.9 L326.1 200.6 L326.4 201.3 L326.4 202.0 L326.6 202.7 L326.8 203.4 L327.0 204.1 L327.1 204.8 L327.4 205.5 L327.7 206.1 L327.8 206.9 L328.1 207.5 L328.2 208.2 L328.5 208.9 L328.5 209.7 L328.8 210.3 L329.1 211.0 L329.1 211.7 L329.5 212.4 L329.4 213.1 L329.5 213.8 L329.8 214.5 L329.7 215.2 L329.9 215.9 L329.9 216.7 L330.1 217.4 L330.2 218.1 L330.2 218.8 L330.5 219.5 L330.4 220.2 L330.7 220.9 L330.8 221.6 L330.9 222.3 L330.8 223.0 L331.0 223.7 L331.0 224.5 L331.3 225.2 L331.2 225.9 L331.4 226.6 L331.6 227.3 L331.6 228.0 L331.6 228.7 L331.8 229.4 L331.8 230.1 L331.9 230.8 L332.0 231.5 L331.9 232.3 L332.0 233.0 L332.1 233.7 L332.3 234.4 L332.3 235.1 L332.3 235.8 L332.4 236.5 L332.5 237.2 L332.5 237.9 L332.7 238.6 L332.6 239.3 L332.8 240.0 L333.0 240.7 L332.9 241.5 L333.1 242.2 L333.0 242.9 L333.3 243.6 L333.1 244.3 L333.3 245.0 L333.3 245.7 L333.6 246.4 L333.5 247.2 L333.7 247.9 L333.8 248.6 L333.7 249.3 L334.0 250.0 L334.0 250.8 L334.1 251.5 L334.1 252.2 L334.1 253.0 L334.4 253.7 L334.4 254.4 L334.5 255.1 L334.5 255.8 L334.6 256.6 L334.8 257.3 L334.7 258.0 L335.0 258.8 L335.0 259.5 L335.0 260.3 L335.2 261.0 L335.3 261.8 L335.3 262.6 L335.4 263.3 L335.5 264.1 L335.4 264.9 L335.6 265.6 L335.7 264.9 L335.7 264.2 L335.8 263.5 L335.8 262.8 L336.0 262.1 L335.9 261.4 L336.1 260.7 L336.1 260.0 L336.1 259.2 L336.1 258.5 L336.3 257.8 L336.2 257.1 L336.2 256.4 L336.4 255.7 L336.5 255.0 L336.5 254.3 L336.5 253.6 L336.5 252.9 L336.6 252.2 L336.7 251.5 L336.8 250.8 L336.8 250.1 L336.7 249.3 L336.9 248.6 L336.9 247.9 L336.9 247.2 L336.9 246.5 L336.9 245.8 L337.1 245.1 L337.1 244.4 L337.1 243.7 L337.2 243.0 L337.3 242.3 L337.4 241.6 L337.4 240.9 L337.4 240.1 L337.6 239.4 L337.5 238.7 L337.7 238.0 L337.8 237.3 L337.7 236.6 L337.8 235.9 L338.0 235.2 L337.9 234.4 L338.0 233.7 L338.0 233.0 L338.0 232.3 L338.1 231.6 L338.2 230.9 L338.3 230.1 L338.4 229.4 L338.5 228.7 L338.6 228.0 L338.6 227.3 L338.6 226.6 L338.8 225.8 L338.8 225.1 L338.8 224.4 L338.9 223.7 L339.0 222.9 L339.0 222.2 L339.1 221.5 L339.1 220.8 L339.3 220.1 L339.2 219.3 L339.4 218.6 L339.3 217.9 L339.3 217.2 L339.5 216.4 L339.5 215.7 L339.6 215.0 L339.6 214.3 L339.8 213.6 L339.8 212.8 L339.9 212.1 L340.0 211.4 L340.1 210.7 L340.1 210.0 L340.1 209.3 L340.0 208.5 L340.1 207.8 L340.2 207.1 L340.4 206.4 L340.3 205.7 L340.4 204.9 L340.4 204.2 L340.5 203.5 L340.7 202.8 L340.7 202.1 L340.8 201.4 L340.7 200.6 L340.8 199.9 L340.8 199.2 L341.0 198.5 L340.9 197.7 L341.2 197.0 L341.1 196.3 L341.3 195.6 L341.3 194.9 L341.3 194.2 L341.5 193.5 L341.4 192.7 L341.6 192.0 L341.5 191.3 L341.7 190.6 L341.8 189.9 L341.7 189.2 L341.9 188.5 L341.9 187.7 L341.9 187.0 L342.0 186.3 L342.2 185.6 L342.3 184.9 L342.4 184.2 L342.4 183.5 L342.4 182.7 L342.5 182.0 L342.5 181.3 L342.7 180.6 L342.7 179.9 L342.7 179.1 L342.9 178.4 L342.8 177.7 L342.9 177.0 L342.9 176.3 L343.0 175.6 L343.2 174.9 L343.3 174.2 L343.2 173.4 L343.3 172.7 L343.4 172.0 L343.5 171.3 L343.5 170.6 L343.6 169.9 L343.6 169.2 L343.6 168.5 L343.8 167.8 L343.8 167.1 L344.0 166.4 L343.9 165.7 L344.1 165.0 L344.1 164.3 L344.1 163.6 L344.2 162.9 L344.3 162.2 L344.3 161.4 L344.5 160.8 L344.4 160.0 L344.6 159.3 L344.7 158.6 L344.7 157.9 L344.8 157.2 L344.9 156.5 L344.9 155.8 L344.9 155.1 L344.9 154.4 L345.0 153.7 L345.1 153.0 L345.1 152.3 L345.3 151.6 L345.3 150.9 L345.4 150.2 L345.5 149.5 L345.8 148.8 L345.7 148.0 L345.8 147.3 L345.9 146.6 L346.1 145.9 L346.3 145.2 L346.4 144.5 L346.5 143.7 L346.5 143.0 L346.6 142.3 L346.7 141.6 L347.0 140.9 L347.1 140.1 L347.1 139.4 L347.3 138.7 L347.3 138.0 L347.5 137.3 L347.6 136.5 L347.7 135.8 L348.0 135.1 L348.1 134.4 L348.2 133.7 L348.3 132.9 L348.6 132.2 L348.7 131.5 L348.9 130.8 L348.9 130.0 L349.3 129.4 L349.2 128.6 L349.4 127.9 L349.6 127.2 L349.7 126.4 L349.8 125.7 L350.2 125.0 L350.5 124.4 L350.5 123.6 L350.7 122.9 L351.0 122.3 L351.1 121.6 L351.3 120.9 L351.6 120.2 L351.8 119.5 L351.9 118.8 L352.1 118.1 L352.4 117.5 L352.8 116.8 L353.0 116.1 L352.9 115.4 L353.3 114.7 L353.5 114.1 L353.6 113.3 L353.9 112.7 L354.1 112.0 L354.5 111.4 L354.6 110.7 L355.2 110.1 L355.4 109.5 L355.6 108.7 L355.8 108.0 L356.2 107.4 L356.4 106.7 L356.9 106.2 L357.2 105.5 L357.5 104.9 L357.9 104.3 L357.9 103.5 L358.4 102.9 L358.8 102.3 L358.8 101.5 L359.2 100.9 L359.4 100.2 L359.9 99.7 L360.3 99.0 L360.4 98.3 L360.9 97.7 L361.1 97.0 L361.5 96.5 L361.7 95.7 L362.3 95.2 L362.4 94.5 L362.6 93.8 L362.9 93.1 L363.5 92.6 L363.8 92.0 L364.1 91.3 L364.2 90.6 L364.8 90.1 L365.1 89.4 L365.2 88.6 L365.6 88.0 L366.0 87.4 L366.1 86.7 L366.5 86.0 L366.9 85.5 L367.4 84.9 L367.8 84.3 L368.0 83.6 L368.7 83.2 L369.1 82.6 L369.6 82.1 L370.0 81.5 L370.6 81.0 L370.9 80.4 L371.5 79.9 L371.8 79.2 L372.3 78.6 L373.0 78.3 L373.6 77.8 L374.2 77.3 L374.8 76.9 L375.5 76.5 L376.0 75.9 L376.2 75.2 L376.7 74.5 L377.2 74.0 L377.6 73.3 L378.0 72.7 L378.5 72.1 L378.8 71.4 L379.3 70.8 L379.7 70.2 L380.4 69.9 L380.9 69.4 L381.4 68.9 L381.8 68.3 L382.3 67.7 L383.0 67.4 L383.4 66.7 L383.8 66.2 L384.3 65.6 L384.8 65.2 L385.5 64.8 L386.0 64.4 L386.5 63.9 L387.3 63.7 L387.8 63.0 L388.5 62.8 L389.1 62.4 L389.8 62.1 L390.4 61.7 L391.2 61.6 L391.9 61.3 L392.4 60.6 L393.0 60.3 L393.8 60.3 L394.4 59.9 L395.1 59.6 L395.7 59.3 L396.4 59.0 L396.9 58.4 L397.5 58.0 L398.2 57.9 L398.8 57.4 L399.7 57.6 L400.2 57.0 L400.9 56.8 L401.6 56.7 L402.2 56.3 L402.7 55.6 L403.5 55.5 L404.1 55.1 L405.0 55.4 L405.6 55.2 L406.3 54.8 L407.0 54.6 L407.7 54.3 L408.4 54.3 L409.1 54.2 L409.9 54.2 L410.6 53.9 L411.3 53.8 L411.9 53.3 L412.6 53.1 L413.3 52.8 L414.1 53.1 L414.6 52.3 L415.3 52.1 L416.1 52.0 L416.9 52.3 L417.6 52.0 L418.2 51.5 L419.0 51.6 L419.6 51.5 L420.3 51.1 L421.0 50.9 L421.8 51.4 L422.5 51.1 L423.2 50.8 L423.9 51.5 L424.7 51.1 L425.4 51.1 L426.1 51.2 L426.8 50.9 L427.5 50.7 L428.3 51.1 L429.0 51.0 L429.7 50.6 L430.4 50.9 L431.2 51.2 L431.9 50.7 L432.6 51.0 L433.3 50.9 L434.0 50.5 L434.7 50.3 L435.5 50.8 L436.2 50.7 L436.9 50.3 L437.6 50.2 L438.4 50.7 L439.1 50.6 L439.7 50.0 L440.4 50.2 L441.1 50.1 L441.8 49.8 L442.5 49.5 L443.2 49.6 L443.9 49.7 L444.6 49.6 L445.3 49.4 L446.0 49.0 L446.7 49.0 L447.4 49.1 L448.1 49.1 L448.9 49.1 L449.6 49.5 L450.3 48.8 L451.0 49.6 L451.7 48.9 L452.4 49.4 L453.1 48.8 L453.9 49.1 L454.6 48.9 L455.3 48.6 L456.0 49.3 L456.7 49.2 L457.4 48.7 L458.2 49.2 L458.9 48.9 L459.6 49.3 L460.3 48.5 L461.0 48.7 L461.7 48.6 L462.5 48.9 L463.2 49.0 L463.9 49.1 L464.7 48.8 L465.4 48.6 L466.1 49.0 L466.8 48.3 L467.6 48.4 L468.3 48.9 L469.0 48.6 L469.8 49.0 L470.5 48.2 L471.2 48.5 L471.9 48.3 L472.7 48.1 L473.4 48.1 L474.1 48.1 L474.9 48.3 L475.6 48.4 L476.3 48.4 L477.0 48.2 L477.8 48.5 L478.5 48.3 L479.2 48.8 L480.0 48.1 L480.7 48.4 L481.4 48.4 L482.1 48.3 L482.9 48.7 L483.6 48.2 L484.3 48.8 L485.0 48.4 L485.8 48.3 L486.5 48.6 L487.2 48.6 L488.0 48.4 L488.7 48.2 L489.4 49.0 L490.1 48.5 L490.9 48.3 L491.6 48.8 L492.3 48.7 L493.1 48.5 L493.8 48.5 L494.5 49.0 L495.2 48.6 L496.0 48.7 L496.7 49.2 L497.4 48.6 L498.1 48.7 L498.9 48.5 L499.6 49.0 L500.3 49.0 L501.1 48.8 L501.8 48.8 L502.5 48.6 L503.2 49.2 L504.0 48.9 L504.7 49.3 L505.4 48.8 L506.1 49.2 L506.9 48.5 L507.6 48.7 L508.3 49.5 L509.1 49.2 L509.8 49.2 L510.5 49.1 L511.2 49.1 L512.0 48.8 L512.7 48.8 L513.4 49.3 L514.2 49.4 L514.9 49.0 L515.6 49.4 L516.4 48.9 L517.1 49.4 L517.8 48.9 L518.5 49.4 L519.3 49.2 L520.0 49.4 L520.7 49.0 L521.4 49.4 L522.2 49.6 L522.9 49.1 L523.6 49.3 L524.3 49.8 L525.1 49.6 L525.8 49.7 L526.5 50.0 L527.3 49.7 L528.0 49.3 L528.7 49.6 L529.4 50.1 L530.1 49.8 L530.8 50.1 L531.5 49.6 L532.2 49.8 L532.9 50.5 L533.6 50.3 L534.3 50.1 L535.1 49.4 L535.7 50.1 L536.5 49.3 L537.1 50.6 L537.8 50.7 L538.5 50.4 L539.3 49.7 L539.9 50.6 L540.7 49.7 L541.3 50.6 L542.0 50.2 L542.8 49.5 L543.4 50.8 L544.2 50.2 L544.8 50.8 L545.6 50.6 L546.3 50.3 L547.0 50.9 L547.7 49.8 L548.5 50.9 L549.2 50.1 L549.9 49.6 L550.7 50.1 L551.4 49.6 L552.1 49.6 L552.8 50.5 L553.6 49.7 L554.3 49.8 L555.0 50.0 L555.8 50.0 L556.5 51.1 L557.2 51.0 L557.9 51.0 L558.6 51.3 L559.4 50.4 L560.1 51.1 L560.8 50.3 L561.5 51.4 L562.2 51.3 L562.9 51.2 L563.7 50.4 L564.5 50.2 L565.1 51.7 L565.8 51.1 L566.5 51.3 L567.2 51.7 L568.1 50.6 L568.7 51.6 L569.4 51.3 L570.1 52.0 L570.8 51.5 L571.6 51.2 L572.1 52.5 L573.0 51.5 L573.6 52.4 L574.3 52.6 L575.1 51.7 L575.7 52.6 L576.5 52.1 L577.3 51.9 L578.0 52.0 L578.5 53.4 L579.4 52.4 L580.0 52.7 L580.7 52.6 L581.4 51.7 L582.2 53.1 L582.9 53.1 L583.6 53.3 L584.3 52.3 L584.9 51.9 L585.7 52.2 L586.4 53.0 L587.1 52.8 L587.8 52.3 L588.5 52.5 L589.2 51.7 L589.9 53.3 L590.6 52.3 L591.3 52.4 L592.0 53.0 L592.8 51.7 L593.3 52.9 L594.1 52.4 L594.6 53.4 L595.6 52.3 L596.2 52.8 L596.8 53.6 L597.5 53.5 L598.3 53.4 L598.9 54.0 L599.7 53.5 L600.3 54.0 L601.2 53.4 L601.6 55.0 L602.5 54.2 L602.9 55.4 L603.7 55.1 L604.4 55.3 L605.2 55.3 L605.8 54.2 L606.6 55.5 L607.2 54.4 L608.0 55.6 L608.7 55.4 L609.4 55.1 L610.1 55.3 L610.7 54.4 L611.5 54.9 L612.2 55.5 L612.9 53.7 L613.7 53.8 L614.3 54.6 L614.9 55.0 L615.8 54.5 L616.5 54.8 L616.8 56.3 L617.8 55.6 L618.6 55.3 L619.3 55.6 L619.8 56.5 L620.7 56.0 L621.2 56.7 L621.9 56.8 L622.6 56.6 L623.3 56.7 L624.1 57.4 L624.6 55.4 L625.5 57.5 L626.0 55.7 L626.7 55.3 L627.5 57.0 L628.2 56.5 L628.9 56.3 L629.7 55.6 L630.1 57.0 L631.1 56.4 L631.5 57.5 L632.6 56.9 L633.0 57.8 L633.7 58.2 L634.6 58.0 L635.2 58.5 L636.2 58.1 L636.5 59.4 L637.2 59.7 L638.2 59.0 L638.7 59.9 L639.4 60.4 L640.2 58.9 L640.7 60.7 L641.4 60.9 L642.3 58.9 L642.9 59.4 L643.7 59.1 L644.3 59.5 L645.1 59.2 L645.7 60.2 L646.4 59.7 L647.1 59.8 L647.9 60.1 L648.6 59.8 L649.4 60.7 L650.2 60.4 L650.8 58.9 L651.5 59.1 L652.2 58.5 L653.2 59.2 L654.1 59.4 L654.2 60.7 L654.8 61.2 L655.2 61.9 L656.5 61.1 L657.3 61.3 L657.3 62.7 L658.3 62.5 L658.7 63.8 L659.7 62.8 L660.4 62.8 L661.2 62.5 L661.5 64.5 L662.4 63.8 L663.1 63.8 L663.8 64.0 L664.4 64.8 L665.0 65.1 L665.9 64.6 L666.7 64.1 L667.4 64.6 L668.0 65.9 L668.9 64.8 L669.5 65.5 L670.3 65.3 L671.1 65.1 L671.8 65.4 L672.6 64.7 L673.3 65.5 L673.6 66.3 L674.9 65.6 L675.2 66.4 L675.4 67.5 L675.9 68.0 L677.4 67.1 L677.5 68.3 L678.1 68.7 L678.5 69.4 L679.4 69.3 L680.3 69.1 L680.8 69.5 L681.2 70.5 L681.9 70.7 L682.9 69.9 L683.3 70.9 L684.0 71.2 L684.7 71.3 L685.7 70.3 L686.2 71.3 L686.9 71.2 L687.5 72.0 L688.3 71.6 L689.1 71.4 L689.6 72.7 L690.5 72.1 L690.9 73.3 L692.0 72.6 L692.3 73.5 L692.5 74.2 L693.7 74.1 L693.6 75.2 L694.7 75.1 L694.4 76.4 L695.8 76.1 L695.6 77.3 L696.4 77.5 L697.1 77.7 L697.5 78.4 L698.0 79.0 L698.7 79.3 L699.6 79.4 L699.9 80.3 L700.7 80.5 L700.7 81.8 L701.9 81.4 L702.4 81.9 L703.2 82.1 L703.2 83.5 L704.4 83.0 L704.7 83.9 L705.1 84.5 L706.1 84.3 L706.4 85.2 L707.4 84.9 L708.2 85.0 L708.9 85.3 L709.1 86.3 L709.4 87.2 L710.6 86.8 L710.7 87.7 L710.8 88.5 L711.6 88.9 L712.1 89.5 L712.2 90.3 L712.6 90.9 L712.5 91.8 L713.0 92.5 L713.9 92.8 L713.9 93.6 L714.4 94.2 L715.0 94.7 L714.9 95.5 L714.8 96.3 L715.6 96.7 L715.7 97.5 L715.9 98.2 L716.7 98.6 L716.3 99.6 L717.3 99.9 L717.4 100.7 L717.3 101.5 L718.2 101.9 L718.2 102.6 L718.7 103.2 L718.7 104.0 L719.4 104.5 L719.6 105.1 L719.8 105.8 L720.2 106.4 L720.5 107.0 L720.7 107.7 L720.7 108.5 L721.4 109.0 L721.1 109.9 L721.7 110.4 L722.1 111.0 L722.4 111.6 L722.2 112.5 L723.2 112.8 L722.9 113.7 L723.7 114.1 L723.3 115.0 L724.0 115.6 L724.1 116.3 L724.2 117.0 L725.0 117.5 L725.3 118.2 L725.0 119.0 L725.4 119.7 L725.5 120.4 L726.1 121.0 L726.2 121.7 L726.7 122.3 L726.7 123.1 L727.1 123.7 L727.1 124.5 L727.6 125.1 L727.8 125.8 L727.8 126.5 L728.4 127.1 L728.1 127.9 L728.6 128.5 L729.0 129.1 L729.3 129.8 L729.2 130.6 L729.5 131.2 L729.5 132.0 L730.0 132.6 L730.2 133.2 L730.1 134.0 L730.7 134.6 L730.5 135.4 L730.7 136.1 L730.9 136.8 L731.2 137.4 L731.9 138.0 L731.7 138.8 L731.9 139.4 L732.3 140.1 L732.0 140.9 L732.4 141.6 L732.5 142.3 L732.8 143.0 L733.2 143.7 L732.9 144.5 L733.5 145.1 L733.6 145.8 L733.5 146.6 L733.9 147.2 L733.9 148.0 L733.9 148.7 L734.5 149.4 L734.3 150.2 L734.8 150.8 L734.7 151.6 L734.8 152.3 L734.9 153.0 L735.4 153.6 L735.5 154.3 L735.2 155.1 L735.6 155.8 L735.8 156.4 L735.9 157.1 L735.9 157.9 L736.0 158.6 L736.2 159.2 L736.5 159.9 L736.5 160.6 L736.7 161.3 L737.0 162.0 L736.7 162.7 L736.9 163.4 L737.1 164.1 L737.1 164.8 L737.6 165.4 L737.5 166.2 L738.0 166.8 L737.8 167.6 L738.0 168.2 L738.0 169.0 L738.2 169.6 L738.3 170.3 L738.8 171.0 L738.6 171.8 L738.9 172.5 L739.1 173.2 L739.2 173.9 L739.1 174.6 L739.2 175.3 L739.3 176.1 L739.5 176.8 L739.9 177.4 L740.0 178.1 L739.9 178.9 L740.2 179.6 L740.2 180.3 L740.5 181.0 L740.6 181.7 L740.4 182.5 L740.8 183.1 L740.6 183.9 L741.0 184.6 L740.8 185.3 L741.2 186.0 L741.3 186.7 L741.4 187.4 L741.7 188.1 L741.6 188.9 L741.8 189.6 L742.1 190.3 L741.8 191.0 L742.2 191.7 L742.5 192.4 L742.1 193.2 L742.6 193.8 L742.8 194.5 L743.0 195.2 L743.1 195.9 L742.9 196.7 L743.1 197.4 L743.3 198.1 L743.5 198.7 L743.7 199.5 L743.4 200.2 L743.9 200.9 L743.7 201.6 L743.9 202.3 L744.4 203.0 L744.2 203.7 L744.8 204.3 L744.5 205.1 L744.6 205.8 L744.9 206.5 L745.1 207.2 L745.1 207.9 L745.6 208.6 L745.6 209.3 L745.9 210.0 L745.9 210.4 L745.9 209.9 L746.3 209.3 L746.4 208.6 L746.7 207.9 L746.8 207.2 L746.9 206.4 L747.3 205.8 L747.4 205.0 L747.4 204.3 L747.4 203.5 L747.9 202.9 L747.7 202.1 L747.7 201.4 L748.0 200.7 L748.4 200.0 L748.6 199.3 L748.6 198.6 L748.7 197.9 L748.9 197.2 L749.0 196.5 L748.9 195.8 L749.0 195.1 L749.3 194.5 L749.2 193.7 L749.2 193.0 L749.5 192.4 L749.7 191.7 L749.5 190.9 L749.8 190.3 L750.0 189.6 L749.8 188.8 L749.9 188.1 L750.2 187.5 L750.2 186.8 L750.6 186.1 L750.7 185.4 L750.6 184.7 L750.8 184.0 L750.9 183.3 L750.8 182.6 L751.2 181.9 L751.0 181.1 L751.0 180.4 L751.3 179.7 L751.2 178.9 L751.6 178.2 L751.6 177.5 L752.0 176.8 L751.8 176.1 L752.2 175.4 L752.2 174.7 L752.3 173.9 L752.2 173.2 L752.3 172.5 L752.5 171.8 L752.6 171.0 L752.8 170.3 L752.9 169.6 L752.9 168.9 L753.1 168.2 L753.4 167.5 L753.2 166.7 L753.3 166.0 L753.3 165.2 L753.5 164.5 L753.6 163.8 L753.9 163.1 L754.2 162.4 L754.2 161.7 L754.5 161.0 L754.5 160.3 L754.5 159.6 L754.6 158.8 L754.5 158.1 L754.8 157.4 L754.8 156.7 L755.1 156.0 L755.0 155.2 L755.3 154.6 L755.4 153.8 L755.6 153.1 L755.6 152.4 L755.6 151.7 L756.1 151.0 L756.3 150.3 L756.3 149.6 L756.2 148.8 L756.6 148.2 L756.9 147.5 L757.2 146.8 L757.2 146.1 L756.9 145.3 L757.5 144.7 L757.6 144.0 L757.5 143.2 L758.0 142.6 L758.1 141.9 L758.3 141.2 L758.1 140.4 L758.4 139.7 L758.5 139.0 L758.6 138.3 L759.0 137.6 L759.0 136.9 L759.0 136.1 L759.2 135.4 L759.6 134.8 L759.5 134.0 L759.8 133.3 L759.8 132.6 L760.1 131.9 L759.7 131.1 L760.1 130.4 L760.3 129.7 L760.5 129.0 L760.7 128.3 L760.7 127.6 L760.7 126.8 L760.9 126.1 L761.0 125.4 L761.3 124.7 L761.6 124.1 L761.2 123.3 L761.5 122.6 L762.0 122.0 L761.7 121.2 L762.3 120.6 L762.0 119.8 L762.5 119.2 L762.7 118.6 L762.5 117.8 L762.8 117.1 L762.8 116.4 L763.3 115.8 L763.3 115.1 L763.5 114.4 L763.5 113.7 L763.8 113.1 L764.2 112.4 L764.3 111.7 L764.5 111.0 L764.2 110.2 L764.7 109.6 L764.8 108.9 L765.0 108.2 L765.6 107.6 L765.4 106.7 L765.9 106.2 L766.3 105.5 L766.7 104.9 L766.3 103.9 L766.7 103.3 L767.1 102.7 L767.7 102.1 L767.4 101.2 L768.1 100.7 L768.0 99.9 L768.4 99.2 L768.9 98.6 L768.5 97.7 L769.0 97.1 L769.2 96.4 L769.4 95.7 L769.8 95.1 L770.4 94.5 L770.6 93.8 L770.5 93.0 L771.4 92.5 L771.4 91.8 L771.4 91.0 L772.2 90.5 L772.5 89.9 L772.3 89.0 L773.2 88.6 L773.4 87.9 L773.3 87.0 L773.4 86.3 L774.5 86.1 L774.8 85.4 L774.5 84.4 L775.5 84.2 L775.8 83.5 L776.1 82.8 L776.6 82.3 L777.1 81.8 L776.8 80.8 L777.8 80.6 L778.4 80.2 L778.3 79.1 L779.1 78.9 L779.6 78.3 L780.2 77.9 L780.4 77.2 L780.6 76.4 L781.1 75.8 L781.8 75.5 L781.9 74.6 L783.1 74.7 L783.6 74.2 L783.4 73.1 L784.4 73.0 L784.9 72.4 L784.9 71.4 L786.0 71.5 L786.5 71.0 L786.6 70.0 L786.9 69.3 L787.6 69.0 L788.6 68.9 L788.8 68.1 L789.7 67.9 L789.6 66.8 L790.0 66.2 L790.8 66.0 L791.9 66.2 L791.8 64.9 L792.2 64.4 L793.4 64.8 L793.4 63.5 L794.5 63.8 L794.5 62.7 L795.2 62.5 L796.1 62.6 L796.9 62.4 L797.0 61.4 L797.7 61.1 L798.1 60.1 L799.0 60.3 L799.6 59.9 L800.7 60.5 L801.3 60.1 L802.1 59.9 L802.6 59.2 L803.4 59.1 L803.6 57.8 L804.5 58.1 L805.1 57.7 L805.8 57.4 L806.7 58.0 L807.1 56.8 L807.8 56.8 L808.5 56.5 L809.5 57.3 L810.0 56.7 L810.6 56.2 L811.2 55.8 L812.2 56.8 L812.9 56.7 L813.4 55.5 L814.1 55.6 L815.0 56.1 L815.4 54.7 L816.1 54.5 L816.7 54.1 L817.6 54.8 L818.4 55.2 L818.9 53.8 L819.7 54.2 L820.6 55.4 L821.1 54.1 L821.8 53.8 L822.6 54.7 L823.3 54.7 L823.9 53.4 L824.5 52.7 L825.4 53.8 L826.1 53.9 L826.9 54.2 L827.4 53.5 L828.1 52.6 L828.8 53.0 L829.5 52.4 L830.3 52.7 L831.0 52.7 L831.8 53.8 L832.5 53.7 L833.3 53.7 L833.9 52.5 L834.7 53.6 L835.3 51.6 L836.1 53.4 L836.8 52.7 L837.6 53.2 L838.2 52.0 L839.0 53.4 L839.6 51.0 L840.5 52.9 L841.2 52.8 L841.8 51.7 L842.6 52.7 L843.2 51.2 L844.0 52.4 L844.7 51.7 L845.4 51.5 L846.1 50.9 L846.9 52.3 L847.6 52.1 L848.3 50.4 L849.0 52.7 L849.7 50.8 L850.5 51.2 L851.2 51.2 L851.9 51.7 L852.6 52.5 L853.3 52.6 L854.0 51.8 L854.7 51.1 L855.4 50.4 L856.2 50.3 L856.9 51.5 L857.6 51.6 L858.4 51.2 L859.3 52.5 L860.0 51.1 L860.8 50.9 L861.5 51.1 L861.6 50.5 L862.1 49.8 L862.0 49.0 L862.1 48.3 L862.2 47.4 L862.3 48.3 L862.4 49.1 L862.4 49.8 L862.4 50.6 L862.3 51.3 L862.5 52.1 L862.7 52.8 L862.8 53.6 L862.8 54.3 L862.8 55.1 L862.6 56.3 L863.0 55.1 L862.8 54.4 L863.1 53.7 L863.0 53.0 L863.1 52.3 L863.2 51.6 L863.1 50.9 L863.1 50.2 L863.4 49.5 L863.2 49.1 L863.7 49.7 L863.5 50.6 L863.7 51.7 L864.7 50.9 L865.4 50.3 L866.1 51.5 L866.8 51.8 L867.5 50.7 L868.3 50.2 L869.0 51.4 L869.7 50.2 L870.4 52.0 L871.1 51.7 L871.8 50.8 L872.6 51.3 L873.3 50.7 L874.0 50.6 L874.8 50.6 L875.5 52.2 L876.3 51.3 L877.0 52.0 L877.7 51.0 L878.5 52.2 L879.2 51.6 L880.0 51.8 L880.7 51.1 L881.4 51.6 L882.2 50.6 L882.9 52.6 L883.7 51.8 L884.5 51.4 L885.3 51.6 L886.0 50.2 L886.6 51.0 L886.8 50.3 L887.3 49.5 L887.0 48.6 L887.3 47.7 L887.3 48.5 L887.4 49.2 L887.5 49.9 L887.7 50.6 L887.8 51.3 L887.7 52.0 L887.9 52.7 L887.8 53.4 L888.0 54.1 L888.1 55.4 L888.1 54.1 L888.3 53.4 L888.4 52.6 L888.3 51.9 L888.6 51.2 L888.3 50.4 L888.7 49.7 L889.0 48.3 L888.8 49.9 L889.1 50.7 L889.0 52.0 L890.4 51.2" stroke="#F79646" stroke-width="1.3"/>
<path d="M115.3 45.4 L116.1 46.2 L116.9 46.0 L117.6 46.3 L118.4 46.1 L119.3 45.6 L120.0 46.5 L120.8 45.9 L121.5 46.3 L122.3 45.7 L123.0 46.1 L123.7 46.7 L124.5 46.8 L125.2 46.7 L126.0 46.5 L126.8 46.9 L127.5 46.8 L128.2 46.2 L129.0 46.6 L129.8 46.6 L130.5 46.8 L131.2 46.1 L132.0 46.2 L132.7 46.2 L133.5 45.9 L134.2 46.2 L135.0 46.7 L135.7 46.5 L136.4 46.0 L137.1 46.7 L137.9 46.0 L138.6 46.8 L139.3 46.1 L140.0 46.0 L140.7 46.2 L141.4 46.6 L142.2 46.3 L142.9 47.1 L143.6 47.2 L144.3 46.4 L145.0 47.0 L145.7 46.9 L146.4 46.8 L147.2 46.5 L147.8 47.4 L148.6 47.4 L149.3 46.3 L150.0 46.7 L150.7 46.7 L151.5 46.6 L152.2 46.9 L152.9 47.5 L153.7 46.5 L154.3 47.5 L155.1 46.9 L155.8 46.6 L156.5 47.7 L157.3 46.9 L158.0 46.9 L158.7 46.8 L159.4 47.1 L160.1 46.7 L160.8 46.8 L161.5 46.8 L162.2 47.2 L162.9 47.0 L163.6 46.7 L164.3 47.0 L165.0 47.2 L165.7 47.2 L166.4 46.7 L167.2 47.4 L167.9 47.2 L168.6 46.9 L169.3 46.8 L170.0 46.6 L170.7 46.4 L171.4 47.4 L172.2 47.1 L172.9 46.5 L173.6 47.5 L174.3 47.5 L175.1 46.5 L175.8 47.4 L176.5 46.9 L177.2 47.3 L177.9 47.7 L178.7 47.1 L179.4 47.4 L180.1 47.6 L180.9 47.3 L181.4 47.9 L182.2 47.9 L182.7 48.6 L183.6 48.0 L184.1 48.7 L185.0 48.2 L185.6 48.6 L186.3 48.7 L187.0 48.9 L187.5 49.5 L188.3 49.3 L188.9 50.2 L189.6 49.2 L190.4 49.7 L191.2 49.9 L191.7 48.9 L192.5 48.9 L193.3 49.4 L194.0 49.0 L194.8 49.4 L195.4 48.6 L196.1 48.6 L196.9 49.1 L197.5 48.3 L198.4 48.9 L199.0 48.8 L199.8 48.0 L200.5 48.5 L201.2 49.0 L202.0 48.1 L202.6 49.1 L203.4 49.0 L204.1 49.1 L204.9 49.0 L205.6 48.4 L206.3 49.5 L207.1 48.6 L207.7 49.4 L208.4 49.5 L209.2 49.2 L209.9 49.8 L210.6 49.7 L211.2 50.2 L212.1 49.6 L212.6 50.7 L213.4 50.3 L214.1 51.0 L214.9 50.4 L215.7 50.5 L216.3 49.7 L217.2 49.8 L218.0 48.9 L218.5 49.9 L219.3 49.9 L219.6 50.9 L220.3 51.1 L221.1 51.2 L221.5 52.0 L222.1 52.4 L222.7 52.7 L223.8 52.4 L224.1 53.3 L224.7 53.6 L225.4 53.8 L226.3 53.6 L226.6 54.7 L227.4 54.6 L228.0 55.1 L228.5 55.6 L229.4 55.4 L230.1 55.6 L230.4 56.6 L231.3 56.4 L231.8 56.3 L232.3 56.2 L233.3 56.5 L233.8 56.0 L234.2 55.2 L234.8 54.8 L235.7 55.0 L236.3 54.4 L236.8 54.0 L237.5 53.4 L238.2 53.6 L239.0 54.2 L239.5 53.0 L240.3 53.4 L240.9 52.9 L241.8 53.9 L242.3 52.8 L243.0 53.7 L243.5 53.8 L244.1 54.2 L245.0 54.1 L245.3 55.0 L245.9 55.3 L246.5 55.7 L247.2 55.8 L247.6 56.5 L248.0 57.1 L248.9 57.2 L249.1 58.1 L249.8 58.4 L250.5 58.8 L251.0 59.3 L251.4 59.9 L251.9 60.5 L252.4 60.9 L252.8 61.6 L253.6 61.9 L254.1 62.4 L254.4 63.2 L255.3 63.2 L255.9 63.6 L256.4 64.1 L257.0 64.5 L257.7 64.7 L258.2 65.3 L259.0 65.4 L259.2 66.4 L260.0 66.4 L260.5 67.2 L261.4 67.1 L262.1 67.2 L262.9 67.3 L263.7 66.9 L264.6 67.4 L265.1 66.5 L265.9 66.4 L266.6 66.0 L267.4 65.6 L267.9 64.7 L268.7 64.6 L269.6 64.8 L270.4 64.5 L271.2 64.5 L271.7 63.4 L272.6 63.2 L273.4 63.2 L274.0 64.0 L274.8 64.1 L275.5 64.1 L276.2 64.4 L277.0 64.2 L277.8 64.4 L278.3 64.8 L279.0 65.0 L279.5 65.4 L280.1 65.9 L280.7 66.3 L281.1 66.9 L281.8 67.2 L282.4 67.7 L282.6 68.4 L282.9 69.0 L283.3 69.6 L283.6 70.2 L284.1 70.8 L284.4 71.4 L284.8 72.0 L285.1 72.6 L285.2 73.4 L286.0 73.7 L286.4 74.2 L286.4 75.1 L287.0 75.6 L287.3 76.2 L287.6 76.8 L288.2 77.3 L288.6 77.9 L289.1 78.4 L289.1 79.3 L289.4 79.9 L290.2 80.3 L290.5 80.9 L290.9 81.5 L291.5 82.0 L291.4 82.9 L291.8 83.4 L292.6 83.8 L292.9 84.4 L293.1 85.2 L293.4 85.9 L294.2 86.0 L294.9 86.2 L295.6 86.4 L296.0 87.2 L296.6 87.5 L297.3 87.8 L298.2 87.5 L298.7 88.2 L299.3 88.8 L300.1 88.7 L300.9 88.7 L301.8 88.6 L302.5 88.7 L303.1 89.6 L304.0 89.1 L304.6 90.1 L305.3 90.1 L306.1 90.5 L306.5 91.2 L307.2 91.7 L308.0 92.0 L308.9 92.2 L308.9 93.1 L309.3 93.7 L309.7 94.3 L309.6 95.1 L310.0 95.7 L310.6 96.2 L310.8 96.9 L311.0 97.6 L311.2 98.3 L311.6 98.9 L311.8 99.5 L312.0 100.3 L312.5 100.8 L312.5 101.6 L312.9 102.2 L312.8 103.0 L313.0 103.6 L313.5 104.2 L313.6 104.9 L314.1 105.5 L314.2 106.2 L314.3 107.0 L314.5 107.6 L314.9 108.3 L315.3 108.9 L315.4 109.6 L315.5 110.3 L315.8 111.0 L315.8 111.7 L315.9 112.4 L315.9 113.1 L316.2 113.8 L316.4 114.5 L316.4 115.2 L316.7 115.9 L316.6 116.7 L317.0 117.3 L317.1 118.0 L317.2 118.8 L317.1 119.5 L317.5 120.1 L317.7 120.9 L317.8 121.6 L317.9 122.3 L318.0 123.0 L318.1 123.7 L318.1 124.4 L318.4 125.2 L318.5 125.9 L318.6 126.6 L318.6 127.4 L318.7 128.1 L318.9 128.8 L318.9 129.5 L319.2 130.2 L319.1 131.0 L319.4 131.7 L319.4 132.4 L319.7 133.2 L319.8 133.9 L320.0 134.6 L319.8 135.4 L320.1 136.1 L320.1 136.8 L320.4 137.5 L320.5 138.2 L320.8 138.8 L320.9 139.5 L321.0 140.2 L321.0 140.9 L321.2 141.6 L321.6 142.2 L321.5 143.0 L321.7 143.7 L322.0 144.3 L322.1 145.0 L322.3 145.7 L322.2 146.4 L322.4 147.1 L322.7 147.8 L322.8 148.4 L323.0 149.1 L323.1 149.8 L323.3 150.5 L323.2 151.2 L323.4 151.9 L323.6 152.6 L323.7 153.4 L324.0 154.0 L324.4 154.7 L324.6 155.4 L324.7 156.1 L324.9 156.8 L324.9 157.5 L325.0 158.3 L325.3 159.0 L325.5 159.7 L325.8 160.3 L325.6 161.1 L325.9 161.8 L326.2 162.5 L326.5 163.1 L326.3 163.9 L326.8 164.6 L326.7 165.4 L327.4 165.9 L327.4 166.7 L327.8 167.3 L327.8 168.1 L328.4 168.6 L328.8 169.3 L329.0 170.0 L329.0 170.7 L329.2 171.5 L329.6 172.1 L329.9 172.7 L330.4 173.3 L330.6 174.0 L331.0 174.6 L330.9 175.5 L331.4 176.1 L331.3 176.8 L331.5 177.5 L331.7 178.2 L331.8 178.9 L331.7 179.7 L332.1 180.4 L332.3 181.1 L332.2 181.8 L332.4 182.5 L332.5 183.2 L332.8 183.9 L332.7 184.7 L333.1 185.3 L333.2 186.0 L333.3 186.8 L333.3 187.5 L333.5 188.2 L333.6 188.9 L333.6 189.6 L333.6 190.3 L333.9 191.0 L334.1 191.7 L333.9 192.4 L334.3 193.1 L334.2 193.8 L334.4 194.5 L334.3 195.2 L334.3 195.9 L334.6 196.6 L334.7 197.3 L334.6 198.0 L334.7 198.7 L335.0 199.4 L334.9 200.1 L334.9 200.8 L335.1 201.5 L335.3 202.2 L335.2 202.9 L335.4 203.6 L335.5 204.3 L335.6 205.0 L335.6 205.7 L335.8 206.4 L335.8 207.1 L335.8 207.9 L335.8 208.6 L335.9 209.3 L335.9 210.0 L336.1 210.8 L336.1 211.5 L336.0 212.2 L336.1 212.9 L336.1 213.7 L336.2 214.4 L336.4 215.1 L336.3 215.8 L336.5 216.6 L336.6 217.3 L336.7 218.0 L336.8 218.7 L336.6 219.4 L336.8 220.1 L336.8 220.8 L336.8 221.5 L337.0 222.2 L336.9 222.9 L336.9 223.6 L337.0 224.3 L337.0 225.0 L337.2 225.7 L337.3 226.4 L337.2 227.1 L337.2 227.8 L337.4 228.5 L337.4 229.2 L337.5 229.9 L337.4 230.6 L337.6 231.3 L337.5 232.0 L337.7 232.7 L337.8 233.4 L337.8 234.1 L337.8 234.9 L337.8 235.6 L338.0 236.3 L338.0 237.0 L338.2 237.7 L338.1 238.4 L338.2 239.1 L338.3 239.9 L338.4 240.6 L338.5 241.3 L338.4 242.0 L338.5 242.7 L338.7 243.4 L338.9 244.1 L338.9 244.8 L338.7 245.6 L339.1 246.3 L338.9 247.0 L339.1 247.8 L339.2 248.6 L339.3 249.3 L339.4 250.1 L339.5 250.9 L339.7 251.6 L339.6 252.4 L339.8 252.7 L339.8 252.4 L340.1 251.7 L340.1 250.9 L340.3 250.1 L340.4 249.3 L340.5 248.6 L340.4 247.8 L340.5 247.0 L340.6 246.3 L340.8 245.6 L340.7 244.9 L340.8 244.2 L341.0 243.5 L340.9 242.8 L341.0 242.1 L341.2 241.4 L341.2 240.7 L341.2 239.9 L341.2 239.2 L341.2 238.5 L341.5 237.8 L341.5 237.1 L341.5 236.4 L341.5 235.7 L341.7 235.0 L341.7 234.3 L341.8 233.6 L341.7 232.8 L341.9 232.1 L341.9 231.4 L341.9 230.7 L342.0 229.9 L342.1 229.2 L342.1 228.5 L342.3 227.8 L342.1 227.0 L342.4 226.3 L342.4 225.6 L342.4 224.9 L342.5 224.2 L342.4 223.4 L342.5 222.7 L342.7 222.0 L342.7 221.3 L342.6 220.5 L342.8 219.8 L342.8 219.1 L342.7 218.4 L342.7 217.6 L342.7 216.9 L342.9 216.2 L342.9 215.5 L342.9 214.7 L343.0 214.0 L342.9 213.3 L343.2 212.6 L343.2 211.8 L343.2 211.1 L343.2 210.4 L343.2 209.6 L343.3 208.9 L343.3 208.2 L343.4 207.5 L343.5 206.7 L343.5 206.0 L343.6 205.3 L343.4 204.6 L343.5 203.9 L343.6 203.1 L343.6 202.4 L343.8 201.7 L344.0 201.0 L344.0 200.3 L344.1 199.6 L344.0 198.9 L344.1 198.2 L344.1 197.4 L344.2 196.7 L344.2 196.0 L344.4 195.3 L344.4 194.6 L344.6 193.9 L344.6 193.2 L344.7 192.5 L344.7 191.7 L344.9 191.0 L344.9 190.3 L345.0 189.6 L345.0 188.9 L345.1 188.2 L345.1 187.5 L345.1 186.8 L345.3 186.1 L345.4 185.4 L345.3 184.7 L345.6 184.0 L345.7 183.3 L345.7 182.6 L345.8 181.9 L345.8 181.2 L345.8 180.4 L345.9 179.7 L346.1 179.0 L346.2 178.4 L346.0 177.6 L346.1 176.9 L346.2 176.2 L346.3 175.5 L346.4 174.8 L346.4 174.1 L346.7 173.4 L346.6 172.7 L346.8 172.0 L346.7 171.3 L346.8 170.6 L346.8 169.9 L347.2 169.2 L347.1 168.5 L347.3 167.8 L347.1 167.0 L347.3 166.3 L347.5 165.6 L347.6 164.9 L347.7 164.2 L347.5 163.5 L347.7 162.8 L347.9 162.1 L347.9 161.4 L348.1 160.7 L347.9 160.0 L347.9 159.2 L348.3 158.6 L348.2 157.8 L348.3 157.1 L348.3 156.4 L348.5 155.7 L348.7 155.0 L348.8 154.3 L348.8 153.6 L348.7 152.9 L349.0 152.2 L348.8 151.5 L349.1 150.8 L349.3 150.1 L349.2 149.4 L349.4 148.7 L349.5 148.0 L349.5 147.3 L349.8 146.6 L349.9 145.9 L349.8 145.2 L350.1 144.5 L350.0 143.8 L350.3 143.1 L350.2 142.4 L350.3 141.7 L350.4 141.0 L350.8 140.3 L350.8 139.6 L350.8 138.9 L351.0 138.2 L351.2 137.5 L351.3 136.8 L351.3 136.1 L351.3 135.4 L351.6 134.7 L351.9 134.0 L351.9 133.3 L352.1 132.6 L352.3 131.9 L352.2 131.2 L352.4 130.5 L352.7 129.8 L352.6 129.0 L353.0 128.4 L352.8 127.6 L353.1 126.9 L353.3 126.2 L353.3 125.5 L353.7 124.8 L353.7 124.1 L353.7 123.4 L353.9 122.7 L354.1 122.0 L354.3 121.3 L354.3 120.6 L354.6 119.9 L355.1 119.3 L355.1 118.5 L355.4 117.8 L355.9 117.2 L356.1 116.6 L356.4 115.9 L356.3 115.1 L356.4 114.4 L357.0 113.8 L357.2 113.1 L357.3 112.4 L357.4 111.6 L357.8 111.0 L357.9 110.3 L358.3 109.7 L358.7 109.0 L358.6 108.2 L358.8 107.5 L359.3 106.9 L359.4 106.2 L359.8 105.6 L360.2 105.0 L360.9 104.6 L360.9 103.8 L361.2 103.2 L361.7 102.6 L361.9 101.9 L362.4 101.3 L362.9 100.8 L363.0 100.1 L363.6 99.6 L363.7 98.8 L364.0 98.2 L364.6 97.7 L364.8 97.0 L365.4 96.4 L365.3 95.6 L366.0 95.1 L366.3 94.4 L366.5 93.6 L366.7 92.9 L367.3 92.4 L367.7 91.8 L367.9 91.0 L368.2 90.4 L368.6 89.8 L368.9 89.1 L369.2 88.4 L369.4 87.7 L369.8 87.1 L370.2 86.5 L370.7 86.0 L371.0 85.4 L371.1 84.6 L371.3 83.9 L371.6 83.3 L372.1 82.8 L372.5 82.1 L372.6 81.4 L373.1 80.9 L373.6 80.3 L373.6 79.5 L374.2 79.0 L374.3 78.3 L374.8 77.7 L375.3 77.2 L375.4 76.3 L375.9 75.7 L376.6 75.3 L376.6 74.4 L377.1 73.9 L377.6 73.3 L378.2 72.8 L378.5 72.1 L379.1 71.6 L379.4 70.9 L379.6 70.0 L380.1 69.5 L380.6 69.0 L381.3 68.7 L381.6 67.9 L382.4 67.7 L383.0 67.2 L383.3 66.5 L384.1 66.3 L384.4 65.5 L385.2 65.3 L385.4 64.4 L386.1 64.1 L386.7 63.7 L387.2 63.1 L388.1 63.2 L388.4 62.2 L389.2 62.1 L389.8 61.8 L390.7 61.9 L391.2 61.3 L391.7 60.6 L392.5 60.5 L393.2 60.4 L394.0 60.2 L394.3 59.3 L395.3 59.5 L395.7 58.9 L396.4 58.7 L397.1 58.3 L397.7 58.0 L398.6 58.2 L399.2 57.8 L399.8 57.5 L400.4 57.0 L401.0 56.7 L401.5 55.9 L402.1 55.5 L403.0 55.9 L403.6 55.6 L404.3 55.4 L404.9 54.8 L405.6 54.6 L406.5 55.1 L407.1 54.5 L407.7 53.8 L408.5 53.9 L409.2 53.7 L409.8 53.2 L410.7 54.0 L411.4 53.7 L412.1 53.4 L412.6 52.4 L413.4 52.6 L414.0 52.1 L414.9 52.6 L415.6 52.5 L416.3 52.3 L417.0 52.1 L417.5 51.2 L418.2 50.9 L418.9 50.8 L419.8 51.4 L420.4 51.3 L421.2 51.0 L421.9 50.7 L422.6 51.3 L423.3 50.6 L424.0 50.8 L424.8 50.4 L425.5 51.4 L426.2 50.8 L427.0 51.2 L427.7 51.2 L428.4 51.0 L429.2 51.3 L429.9 51.0 L430.6 51.1 L431.3 51.1 L432.0 50.2 L432.7 50.8 L433.4 50.2 L434.2 50.3 L434.9 50.2 L435.7 50.8 L436.3 49.9 L437.1 50.2 L437.8 49.8 L438.6 50.6 L439.2 50.0 L439.9 50.1 L440.6 49.8 L441.3 49.9 L442.0 49.5 L442.7 49.4 L443.4 49.6 L444.1 49.5 L444.8 49.5 L445.5 48.9 L446.2 49.3 L446.9 49.1 L447.6 48.9 L448.3 48.8 L449.1 48.9 L449.8 48.4 L450.5 48.4 L451.2 48.6 L451.9 48.4 L452.6 48.3 L453.4 48.9 L454.1 48.9 L454.8 48.8 L455.5 48.3 L456.3 48.8 L457.0 48.9 L457.7 48.7 L458.4 48.3 L459.1 48.6 L459.8 48.4 L460.6 48.2 L461.3 48.1 L462.0 48.8 L462.7 48.5 L463.4 48.8 L464.1 48.0 L464.8 48.1 L465.5 48.3 L466.2 47.8 L466.9 48.0 L467.6 48.2 L468.3 48.2 L469.0 48.5 L469.7 48.2 L470.4 48.2 L471.1 48.2 L471.8 48.3 L472.5 47.9 L473.2 47.5 L473.9 48.4 L474.6 48.2 L475.3 47.6 L476.0 47.5 L476.7 47.6 L477.4 48.0 L478.1 47.5 L478.8 47.3 L479.5 47.8 L480.2 47.3 L480.9 47.6 L481.6 47.7 L482.3 47.6 L483.0 47.4 L483.7 47.7 L484.4 47.6 L485.1 47.7 L485.8 47.8 L486.5 47.8 L487.2 47.8 L487.9 47.5 L488.6 48.3 L489.3 48.2 L490.0 48.0 L490.7 47.5 L491.4 47.8 L492.1 48.4 L492.8 48.0 L493.5 47.8 L494.2 48.4 L494.9 48.5 L495.6 47.7 L496.3 48.1 L497.0 48.2 L497.7 47.8 L498.4 48.0 L499.1 48.3 L499.8 48.3 L500.5 48.3 L501.2 48.3 L501.9 48.1 L502.6 47.8 L503.3 47.8 L504.0 48.6 L504.7 48.6 L505.4 48.7 L506.1 47.9 L506.8 48.6 L507.5 48.0 L508.2 48.2 L508.9 48.0 L509.6 48.7 L510.3 48.7 L511.0 48.7 L511.7 48.3 L512.4 48.8 L513.1 48.2 L513.8 48.5 L514.5 48.6 L515.2 48.2 L515.9 48.4 L516.6 48.1 L517.3 48.8 L518.0 48.3 L518.7 48.2 L519.4 48.4 L520.1 48.8 L520.8 48.8 L521.5 48.7 L522.2 49.0 L522.9 49.0 L523.6 48.4 L524.3 48.8 L525.0 48.5 L525.7 48.5 L526.4 48.5 L527.1 48.4 L527.8 48.7 L528.5 49.3 L529.2 49.1 L529.9 48.5 L530.6 48.7 L531.3 49.1 L532.0 49.0 L532.7 48.5 L533.4 48.6 L534.1 49.1 L534.8 49.2 L535.5 48.7 L536.2 49.4 L537.0 48.9 L537.6 49.2 L538.4 49.2 L539.1 49.0 L539.7 49.6 L540.5 49.1 L541.2 49.2 L541.9 49.3 L542.6 49.6 L543.3 49.8 L544.0 49.6 L544.7 49.4 L545.4 49.6 L546.1 49.6 L546.8 49.9 L547.6 50.0 L548.3 49.7 L549.0 49.1 L549.8 49.5 L550.5 49.3 L551.2 49.1 L552.0 49.8 L552.7 49.0 L553.4 49.7 L554.1 49.4 L554.9 49.3 L555.6 49.7 L556.3 49.7 L557.1 50.1 L557.8 50.1 L558.5 49.9 L559.3 49.2 L559.9 49.8 L560.7 49.6 L561.4 50.3 L562.1 49.6 L562.9 49.5 L563.6 49.1 L564.3 49.8 L565.0 49.9 L565.8 49.7 L566.5 49.4 L567.2 50.0 L568.0 49.4 L568.7 49.7 L569.3 50.2 L570.1 50.1 L570.7 50.5 L571.5 50.6 L572.2 50.4 L573.0 50.1 L573.7 50.0 L574.3 51.0 L574.9 51.8 L575.8 50.7 L576.5 50.9 L577.2 50.9 L577.8 51.8 L578.6 51.4 L579.2 52.0 L580.0 50.7 L580.7 50.9 L581.4 51.0 L582.1 51.3 L582.8 51.3 L583.5 51.3 L584.3 52.4 L584.9 51.3 L585.6 51.6 L586.4 52.4 L587.1 51.7 L587.8 51.6 L588.5 52.1 L589.2 51.0 L589.8 50.3 L590.6 52.3 L591.3 51.3 L592.0 51.4 L592.7 50.2 L593.3 51.7 L594.1 51.1 L594.7 51.8 L595.6 51.3 L596.0 52.6 L596.9 51.7 L597.7 51.7 L598.1 53.1 L599.1 51.9 L599.8 52.2 L600.3 52.8 L600.8 53.9 L601.9 52.3 L602.6 52.7 L603.0 54.0 L604.0 52.7 L604.5 53.6 L605.2 54.6 L605.9 54.3 L606.7 54.5 L607.2 52.8 L608.1 54.6 L608.7 53.2 L609.5 54.3 L610.1 53.4 L610.9 54.4 L611.5 53.2 L612.1 52.6 L612.8 52.3 L613.6 53.1 L614.6 52.3 L615.2 52.8 L615.5 54.5 L616.4 54.1 L616.9 54.9 L618.0 53.5 L618.5 54.5 L619.2 54.6 L620.2 54.0 L620.8 54.6 L621.0 56.3 L621.9 56.1 L622.7 55.5 L623.4 55.7 L624.2 56.4 L624.9 56.6 L625.5 55.5 L626.1 53.9 L627.0 56.2 L627.5 54.2 L628.2 54.3 L628.9 54.0 L629.7 55.0 L630.4 55.1 L631.1 55.1 L631.8 55.4 L632.8 55.1 L633.0 56.5 L633.9 56.4 L634.8 56.3 L635.0 57.6 L635.6 58.1 L636.3 58.4 L637.0 58.8 L638.5 57.2 L638.9 58.1 L639.5 58.3 L640.2 57.8 L640.9 59.2 L641.5 59.7 L642.4 57.6 L643.0 58.7 L643.6 60.1 L644.3 59.9 L645.1 58.7 L645.9 57.8 L646.5 58.8 L647.2 59.1 L648.0 59.7 L648.6 58.0 L649.4 58.2 L650.3 60.0 L650.8 57.3 L651.7 58.8 L652.3 57.4 L653.2 59.1 L653.9 58.1 L654.1 59.4 L655.5 58.6 L655.4 60.1 L656.7 59.4 L657.5 59.5 L658.1 59.9 L658.8 60.3 L659.1 61.2 L659.4 62.7 L660.5 61.4 L661.0 62.4 L662.1 61.0 L662.5 62.3 L663.2 62.5 L664.1 61.7 L664.6 63.0 L665.3 62.8 L666.1 62.7 L666.5 64.1 L667.3 64.0 L668.2 62.5 L669.0 62.5 L669.7 62.5 L670.4 63.1 L671.1 64.2 L671.8 65.2 L672.5 65.3 L673.3 65.0 L674.4 63.3 L674.4 65.0 L675.0 65.3 L676.0 65.2 L676.0 66.5 L677.0 66.2 L678.1 65.8 L678.7 66.4 L679.4 66.6 L679.5 67.8 L680.1 68.2 L680.5 69.1 L681.8 67.5 L682.5 67.7 L682.5 70.1 L683.7 68.6 L684.4 68.8 L684.6 70.4 L685.8 68.8 L686.1 70.6 L686.7 71.0 L687.6 70.4 L688.2 70.7 L689.3 69.5 L689.7 71.1 L690.4 71.3 L691.0 71.9 L691.9 71.5 L693.0 70.9 L693.4 71.8 L693.4 72.8 L694.6 72.7 L695.1 73.2 L695.4 73.9 L695.3 75.1 L696.0 75.3 L696.8 75.6 L696.5 76.8 L697.5 76.9 L698.5 76.8 L698.8 77.8 L699.1 78.7 L700.2 78.3 L700.8 78.9 L701.2 79.5 L701.4 80.6 L702.4 80.5 L703.5 80.2 L703.7 81.3 L704.6 81.3 L705.0 81.9 L705.4 82.7 L706.8 81.9 L706.8 83.1 L707.6 83.2 L707.9 84.1 L708.3 84.8 L709.3 84.6 L709.7 85.3 L710.7 85.0 L711.4 85.5 L711.5 86.5 L711.8 87.1 L712.6 87.5 L712.3 88.6 L713.0 89.0 L713.6 89.6 L714.1 90.1 L713.7 91.2 L714.0 91.9 L714.2 92.5 L715.4 92.8 L716.0 93.3 L715.5 94.3 L716.6 94.6 L715.8 95.7 L716.3 96.3 L717.1 96.7 L717.2 97.4 L717.2 98.2 L718.2 98.6 L718.2 99.4 L717.9 100.3 L718.4 100.9 L718.8 101.4 L719.8 101.8 L719.9 102.5 L720.1 103.2 L720.7 103.7 L720.2 104.7 L720.6 105.3 L720.4 106.2 L721.2 106.6 L721.0 107.5 L721.9 107.8 L722.1 108.5 L722.8 109.0 L722.8 109.7 L722.4 110.7 L723.3 111.0 L724.3 111.3 L724.1 112.2 L724.6 112.8 L724.3 113.7 L724.7 114.3 L725.0 115.0 L724.6 115.9 L725.1 116.5 L726.3 116.8 L726.7 117.4 L725.9 118.5 L726.3 119.1 L726.5 119.8 L727.0 120.4 L727.9 120.9 L727.5 121.8 L727.2 122.6 L727.8 123.2 L728.9 123.6 L729.0 124.3 L728.1 125.4 L728.9 125.9 L729.6 126.4 L729.1 127.3 L729.0 128.1 L729.3 128.8 L729.8 129.3 L729.8 130.1 L731.1 130.4 L730.8 131.3 L730.5 132.1 L731.4 132.6 L731.9 133.1 L731.1 134.2 L731.5 134.8 L732.8 135.1 L732.9 135.8 L732.4 136.7 L732.0 137.6 L732.6 138.2 L732.4 139.0 L733.7 139.4 L733.2 140.3 L733.9 140.9 L733.8 141.6 L734.3 142.3 L734.0 143.1 L734.7 143.7 L734.0 144.6 L734.2 145.3 L733.9 146.1 L734.3 146.8 L735.5 147.3 L734.5 148.2 L735.1 148.9 L734.8 149.7 L735.5 150.3 L736.2 150.9 L735.5 151.8 L736.4 152.3 L735.5 153.2 L736.2 153.8 L735.9 154.6 L736.5 155.2 L736.9 155.8 L736.6 156.6 L736.7 157.3 L737.1 157.9 L737.5 158.6 L737.5 159.3 L737.2 160.1 L738.0 160.6 L738.2 161.3 L737.9 162.1 L737.9 162.8 L738.8 163.3 L738.6 164.1 L737.9 165.0 L738.9 165.5 L738.4 166.3 L739.2 166.9 L739.6 167.5 L739.2 168.3 L738.8 169.1 L739.1 169.8 L740.1 170.3 L739.4 171.2 L739.6 171.9 L739.9 172.6 L739.8 173.3 L740.1 174.0 L740.7 174.7 L740.1 175.5 L741.0 176.1 L740.9 176.8 L740.3 177.7 L740.8 178.3 L741.0 179.0 L740.8 179.8 L741.2 180.4 L741.5 181.1 L741.4 181.9 L742.2 182.5 L741.9 183.3 L742.4 183.9 L741.3 184.8 L741.5 185.5 L742.0 186.2 L742.7 186.8 L741.9 187.7 L742.8 188.3 L742.2 189.1 L742.6 189.7 L742.8 190.4 L742.7 191.2 L743.5 191.8 L742.9 192.6 L743.4 193.2 L743.2 194.0 L743.3 194.7 L744.1 195.3 L744.1 196.0 L744.3 196.7 L744.7 197.4 L743.9 198.3 L744.2 198.9 L744.6 199.6 L744.7 200.3 L744.4 201.1 L745.5 201.6 L745.3 202.4 L745.1 203.2 L745.4 203.8 L745.6 204.5 L746.1 205.1 L746.3 205.8 L745.9 206.6 L746.4 207.3 L745.8 208.1 L746.0 208.8 L746.8 210.2 L746.5 208.6 L747.0 208.0 L746.6 207.1 L747.0 206.5 L746.8 205.7 L747.4 205.1 L748.1 204.4 L748.0 203.7 L747.6 202.9 L747.6 202.1 L748.6 201.5 L747.6 200.6 L748.7 200.1 L748.9 199.4 L748.0 198.5 L749.2 198.0 L748.9 197.2 L748.7 196.5 L748.8 195.8 L749.2 195.1 L749.2 194.4 L749.7 193.8 L749.8 193.1 L749.2 192.3 L748.9 191.6 L750.0 191.0 L749.9 190.3 L750.1 189.6 L749.4 188.8 L749.5 188.1 L750.7 187.6 L750.1 186.8 L750.3 186.1 L751.1 185.5 L750.2 184.6 L750.9 184.0 L750.2 183.2 L751.0 182.6 L751.3 181.9 L750.7 181.1 L751.6 180.5 L751.9 179.8 L751.9 179.0 L751.9 178.3 L752.2 177.6 L752.1 176.8 L751.9 176.1 L752.4 175.4 L752.5 174.7 L752.4 173.9 L752.5 173.2 L752.0 172.4 L752.3 171.7 L752.4 171.0 L753.2 170.4 L753.2 169.6 L752.7 168.8 L753.7 168.2 L752.6 167.3 L752.7 166.6 L753.2 165.9 L753.0 165.2 L754.2 164.7 L753.6 163.8 L753.8 163.1 L754.5 162.5 L754.2 161.7 L754.4 161.0 L754.3 160.3 L754.4 159.5 L755.2 158.9 L754.4 158.1 L754.9 157.4 L754.9 156.7 L754.6 155.9 L754.8 155.2 L755.3 154.6 L755.8 153.9 L755.5 153.1 L755.1 152.3 L756.4 151.8 L755.5 150.9 L756.6 150.4 L755.7 149.5 L756.6 148.9 L756.1 148.1 L756.4 147.4 L756.8 146.7 L757.3 146.1 L757.1 145.3 L757.2 144.6 L757.4 143.9 L757.7 143.2 L757.5 142.5 L758.5 142.0 L757.7 141.0 L757.8 140.3 L758.5 139.7 L758.4 139.0 L759.0 138.4 L758.2 137.5 L759.2 136.9 L758.9 136.1 L759.8 135.5 L759.1 134.7 L759.4 134.0 L759.4 133.2 L759.8 132.6 L759.6 131.8 L760.2 131.2 L760.0 130.4 L760.5 129.7 L760.1 128.9 L760.4 128.3 L760.7 127.6 L761.0 126.9 L761.1 126.2 L760.9 125.4 L760.6 124.6 L760.8 123.9 L761.0 123.2 L761.2 122.6 L761.4 121.9 L762.1 121.3 L761.9 120.5 L762.8 120.0 L762.1 119.1 L762.2 118.5 L762.3 117.8 L762.4 117.1 L763.2 116.5 L763.3 115.8 L763.0 115.0 L763.9 114.5 L763.9 113.8 L763.7 113.0 L764.1 112.4 L764.3 111.7 L764.2 111.0 L763.9 110.1 L764.5 109.5 L765.5 109.1 L765.0 108.2 L765.6 107.6 L765.1 106.6 L766.2 106.3 L766.6 105.6 L766.2 104.7 L766.5 104.0 L766.9 103.4 L766.8 102.6 L767.0 101.8 L767.1 101.1 L768.1 100.7 L768.1 99.9 L768.9 99.4 L769.2 98.7 L769.4 98.0 L769.7 97.4 L769.9 96.7 L769.1 95.6 L769.5 94.9 L770.9 94.7 L771.0 94.0 L771.0 93.2 L771.3 92.5 L771.3 91.7 L771.6 91.1 L771.5 90.2 L772.3 89.8 L772.2 89.0 L772.3 88.2 L773.6 88.0 L773.6 87.2 L774.3 86.8 L773.9 85.8 L774.6 85.3 L774.6 84.5 L775.7 84.3 L775.2 83.2 L776.1 82.9 L776.4 82.2 L776.4 81.4 L776.5 80.5 L777.5 80.3 L778.0 79.8 L778.8 79.6 L778.6 78.4 L779.0 77.9 L779.7 77.5 L780.7 77.4 L780.5 76.3 L781.5 76.1 L781.3 75.0 L781.8 74.5 L783.0 74.6 L783.2 73.8 L783.3 72.9 L784.2 72.8 L785.2 72.7 L785.1 71.6 L785.8 71.3 L786.2 70.6 L786.8 70.2 L786.8 69.2 L788.2 69.6 L788.4 68.7 L788.7 68.0 L789.1 67.4 L789.6 66.8 L790.8 67.1 L791.3 66.6 L791.4 65.6 L792.2 65.5 L792.7 65.0 L792.9 64.1 L793.3 63.5 L794.5 63.9 L794.6 62.8 L795.5 62.9 L795.5 61.8 L796.1 61.3 L796.8 61.0 L797.9 61.4 L798.5 61.1 L799.5 61.3 L799.9 60.5 L800.5 60.0 L800.9 59.0 L802.2 60.1 L802.5 59.1 L803.5 59.3 L803.6 57.8 L804.7 58.8 L805.2 58.0 L805.8 57.4 L806.5 57.4 L807.0 56.7 L808.0 57.2 L808.4 56.5 L809.4 57.0 L809.8 55.9 L810.7 56.5 L811.3 56.3 L812.1 56.3 L812.9 56.5 L813.3 55.3 L814.2 55.8 L814.8 55.2 L815.6 55.9 L816.3 55.6 L817.0 55.4 L817.6 54.9 L818.2 54.2 L819.1 55.2 L819.8 55.2 L820.5 55.0 L821.1 53.9 L821.9 54.6 L822.6 54.2 L823.3 54.4 L824.0 54.2 L824.6 53.5 L825.3 53.3 L826.1 53.8 L826.7 53.5 L827.4 53.2 L828.2 53.7 L828.8 52.2 L829.5 52.1 L830.3 52.8 L831.0 52.1 L831.8 53.4 L832.4 52.0 L833.2 53.3 L833.9 52.1 L834.6 51.9 L835.4 53.1 L836.1 52.9 L836.8 52.1 L837.5 52.5 L838.2 52.4 L839.0 53.3 L839.7 52.1 L840.4 52.2 L841.1 51.9 L841.8 51.7 L842.6 52.4 L843.2 50.9 L844.0 52.3 L844.8 52.8 L845.5 52.3 L846.2 51.7 L846.8 51.2 L847.6 50.5 L848.3 50.4 L849.0 51.6 L849.8 52.5 L850.5 52.4 L851.2 50.6 L851.9 52.1 L852.6 52.2 L853.3 51.4 L854.0 52.4 L854.7 50.6 L855.5 50.8 L856.2 51.5 L856.9 52.3 L857.6 51.2 L858.4 50.6 L859.3 52.7 L860.0 50.9 L860.8 50.9 L861.1 50.6 L861.7 50.5 L862.2 49.8 L861.7 49.0 L862.3 48.4 L862.2 47.6 L862.9 48.3 L861.7 49.1 L862.7 49.8 L862.4 50.6 L861.8 51.4 L862.9 52.0 L863.2 52.8 L863.0 53.5 L863.2 54.3 L862.3 55.1 L862.8 55.9 L862.2 55.0 L862.6 54.4 L863.0 53.7 L862.6 53.0 L862.8 52.3 L863.7 51.6 L863.1 50.9 L862.9 50.2 L863.5 49.5 L864.0 47.9 L863.6 49.7 L863.6 50.6 L864.7 50.6 L864.7 51.6 L865.4 50.6 L866.1 52.4 L866.8 51.9 L867.5 53.0 L868.3 51.8 L869.0 50.1 L869.7 50.1 L870.4 52.2 L871.1 52.6 L871.8 49.7 L872.6 51.1 L873.3 50.5 L874.0 51.3 L874.8 52.9 L875.5 51.6 L876.3 52.4 L877.0 52.5 L877.7 50.5 L878.5 51.9 L879.2 50.9 L880.0 51.3 L880.7 51.5 L881.4 52.1 L882.2 50.1 L882.9 52.7 L883.6 50.1 L884.4 50.6 L885.3 52.6 L886.1 53.1 L886.6 50.9 L887.7 50.5 L886.4 49.4 L888.0 48.8 L886.9 47.1 L888.1 48.4 L887.1 49.2 L888.1 49.9 L887.3 50.6 L888.4 51.2 L888.3 52.0 L888.0 52.7 L888.5 53.3 L888.0 54.1 L887.9 54.3 L888.4 54.1 L888.1 53.3 L888.9 52.7 L888.8 52.0 L887.9 51.1 L889.1 50.5 L889.1 49.8 L888.5 49.2 L888.8 49.9 L889.6 50.6 L889.5 51.2 L890.4 50.6" stroke="#FF0000" stroke-width="2.5"/>
</g>
<rect x="500" y="377.4" width="344" height="108.4" fill="#fff" stroke="#000" stroke-width="2"/>
<path d="M531 390.6 H547.4" stroke="#92D050" stroke-width="2.2"/>
<path d="M531 418.4 H547.4" stroke="#0070C0" stroke-width="1.5"/>
<path d="M531 446.0 H547.4" stroke="#F79646" stroke-width="1.5"/>
<path d="M531 473.4 H547.4" stroke="#FF0000" stroke-width="2.6"/>
<g font-family="Liberation Sans, Arial, sans-serif" fill="#000">
<text x="94.5" y="52.2" font-size="19.8" text-anchor="end">0</text>
<text x="94.5" y="94.1" font-size="19.8" text-anchor="end">-5</text>
<text x="94.5" y="136.0" font-size="19.8" text-anchor="end">-10</text>
<text x="94.5" y="177.9" font-size="19.8" text-anchor="end">-15</text>
<text x="94.5" y="219.8" font-size="19.8" text-anchor="end">-20</text>
<text x="94.5" y="261.7" font-size="19.8" text-anchor="end">-25</text>
<text x="94.5" y="303.5" font-size="19.8" text-anchor="end">-30</text>
<text x="94.5" y="345.4" font-size="19.8" text-anchor="end">-35</text>
<text x="94.5" y="387.3" font-size="19.8" text-anchor="end">-40</text>
<text x="94.5" y="429.2" font-size="19.8" text-anchor="end">-45</text>
<text x="94.5" y="471.1" font-size="19.8" text-anchor="end">-50</text>
<text x="94.5" y="513.0" font-size="19.8" text-anchor="end">-55</text>
<text x="115.2" y="543.1" font-size="19.8" text-anchor="middle">0,0</text>
<text x="179.8" y="543.1" font-size="19.8" text-anchor="middle">0,2</text>
<text x="244.4" y="543.1" font-size="19.8" text-anchor="middle">0,4</text>
<text x="309.0" y="543.1" font-size="19.8" text-anchor="middle">0,6</text>
<text x="373.6" y="543.1" font-size="19.8" text-anchor="middle">0,8</text>
<text x="438.1" y="543.1" font-size="19.8" text-anchor="middle">1,0</text>
<text x="502.7" y="543.1" font-size="19.8" text-anchor="middle">1,2</text>
<text x="567.3" y="543.1" font-size="19.8" text-anchor="middle">1,4</text>
<text x="631.9" y="543.1" font-size="19.8" text-anchor="middle">1,6</text>
<text x="696.5" y="543.1" font-size="19.8" text-anchor="middle">1,8</text>
<text x="761.0" y="543.1" font-size="19.8" text-anchor="middle">2,0</text>
<text x="825.6" y="543.1" font-size="19.8" text-anchor="middle">2,2</text>
<text x="890.2" y="543.1" font-size="19.8" text-anchor="middle">2,4</text>
<text x="424.2" y="578.5" font-size="19" font-weight="bold" textLength="146" lengthAdjust="spacingAndGlyphs" xml:space="preserve">Frequenz  [GHz]</text>
<g transform="translate(29.5,311.9) rotate(-90)" font-weight="bold" font-size="20" stroke="#000" stroke-width="0.35"><text x="-0.5" y="0" textLength="10.6" lengthAdjust="spacingAndGlyphs">S</text><text x="10.9" y="0" font-size="14" textLength="14.6" lengthAdjust="spacingAndGlyphs">11</text><text x="30.4" y="0" textLength="38.8" lengthAdjust="spacingAndGlyphs">[dB]</text></g>
<g font-size="13.8" font-weight="bold">
<text x="549.4" y="395.6" textLength="59.6" lengthAdjust="spacingAndGlyphs">Medium:</text>
<text x="613.6" y="395.6" textLength="28.8" lengthAdjust="spacingAndGlyphs">Luft,</text>
<text x="668.4" y="395.6" textLength="60.2" lengthAdjust="spacingAndGlyphs">Antenne:</text>
<text x="733.6" y="395.6" textLength="33.8" lengthAdjust="spacingAndGlyphs">ohne</text>
<text x="771.0" y="395.6" textLength="42.6" lengthAdjust="spacingAndGlyphs">Wachs</text>
<text x="549.4" y="423.0" textLength="59.6" lengthAdjust="spacingAndGlyphs">Medium:</text>
<text x="613.6" y="423.0" textLength="28.8" lengthAdjust="spacingAndGlyphs">Luft,</text>
<text x="668.4" y="423.0" textLength="60.2" lengthAdjust="spacingAndGlyphs">Antenne:</text>
<text x="734.2" y="423.0" textLength="20.8" lengthAdjust="spacingAndGlyphs">mit</text>
<text x="760.0" y="423.0" textLength="43.0" lengthAdjust="spacingAndGlyphs">Wachs</text>
<text x="549.4" y="450.6" textLength="59.6" lengthAdjust="spacingAndGlyphs">Medium:</text>
<text x="613.6" y="450.6" textLength="51.4" lengthAdjust="spacingAndGlyphs">Wasser,</text>
<text x="669.6" y="450.6" textLength="60.2" lengthAdjust="spacingAndGlyphs">Antenne:</text>
<text x="735.0" y="450.6" textLength="21.0" lengthAdjust="spacingAndGlyphs">mit</text>
<text x="761.0" y="450.6" textLength="42.6" lengthAdjust="spacingAndGlyphs">Wachs</text>
<text x="549.4" y="478.0" textLength="59.6" lengthAdjust="spacingAndGlyphs">Medium:</text>
<text x="613.8" y="478.0" textLength="42.2" lengthAdjust="spacingAndGlyphs">Beton,</text>
<text x="668.0" y="478.0" textLength="60.2" lengthAdjust="spacingAndGlyphs">Antenne:</text>
<text x="733.4" y="478.0" textLength="20.8" lengthAdjust="spacingAndGlyphs">mit</text>
<text x="759.0" y="478.0" textLength="43.0" lengthAdjust="spacingAndGlyphs">Wachs</text>
</g></g></svg>
</body></html>
